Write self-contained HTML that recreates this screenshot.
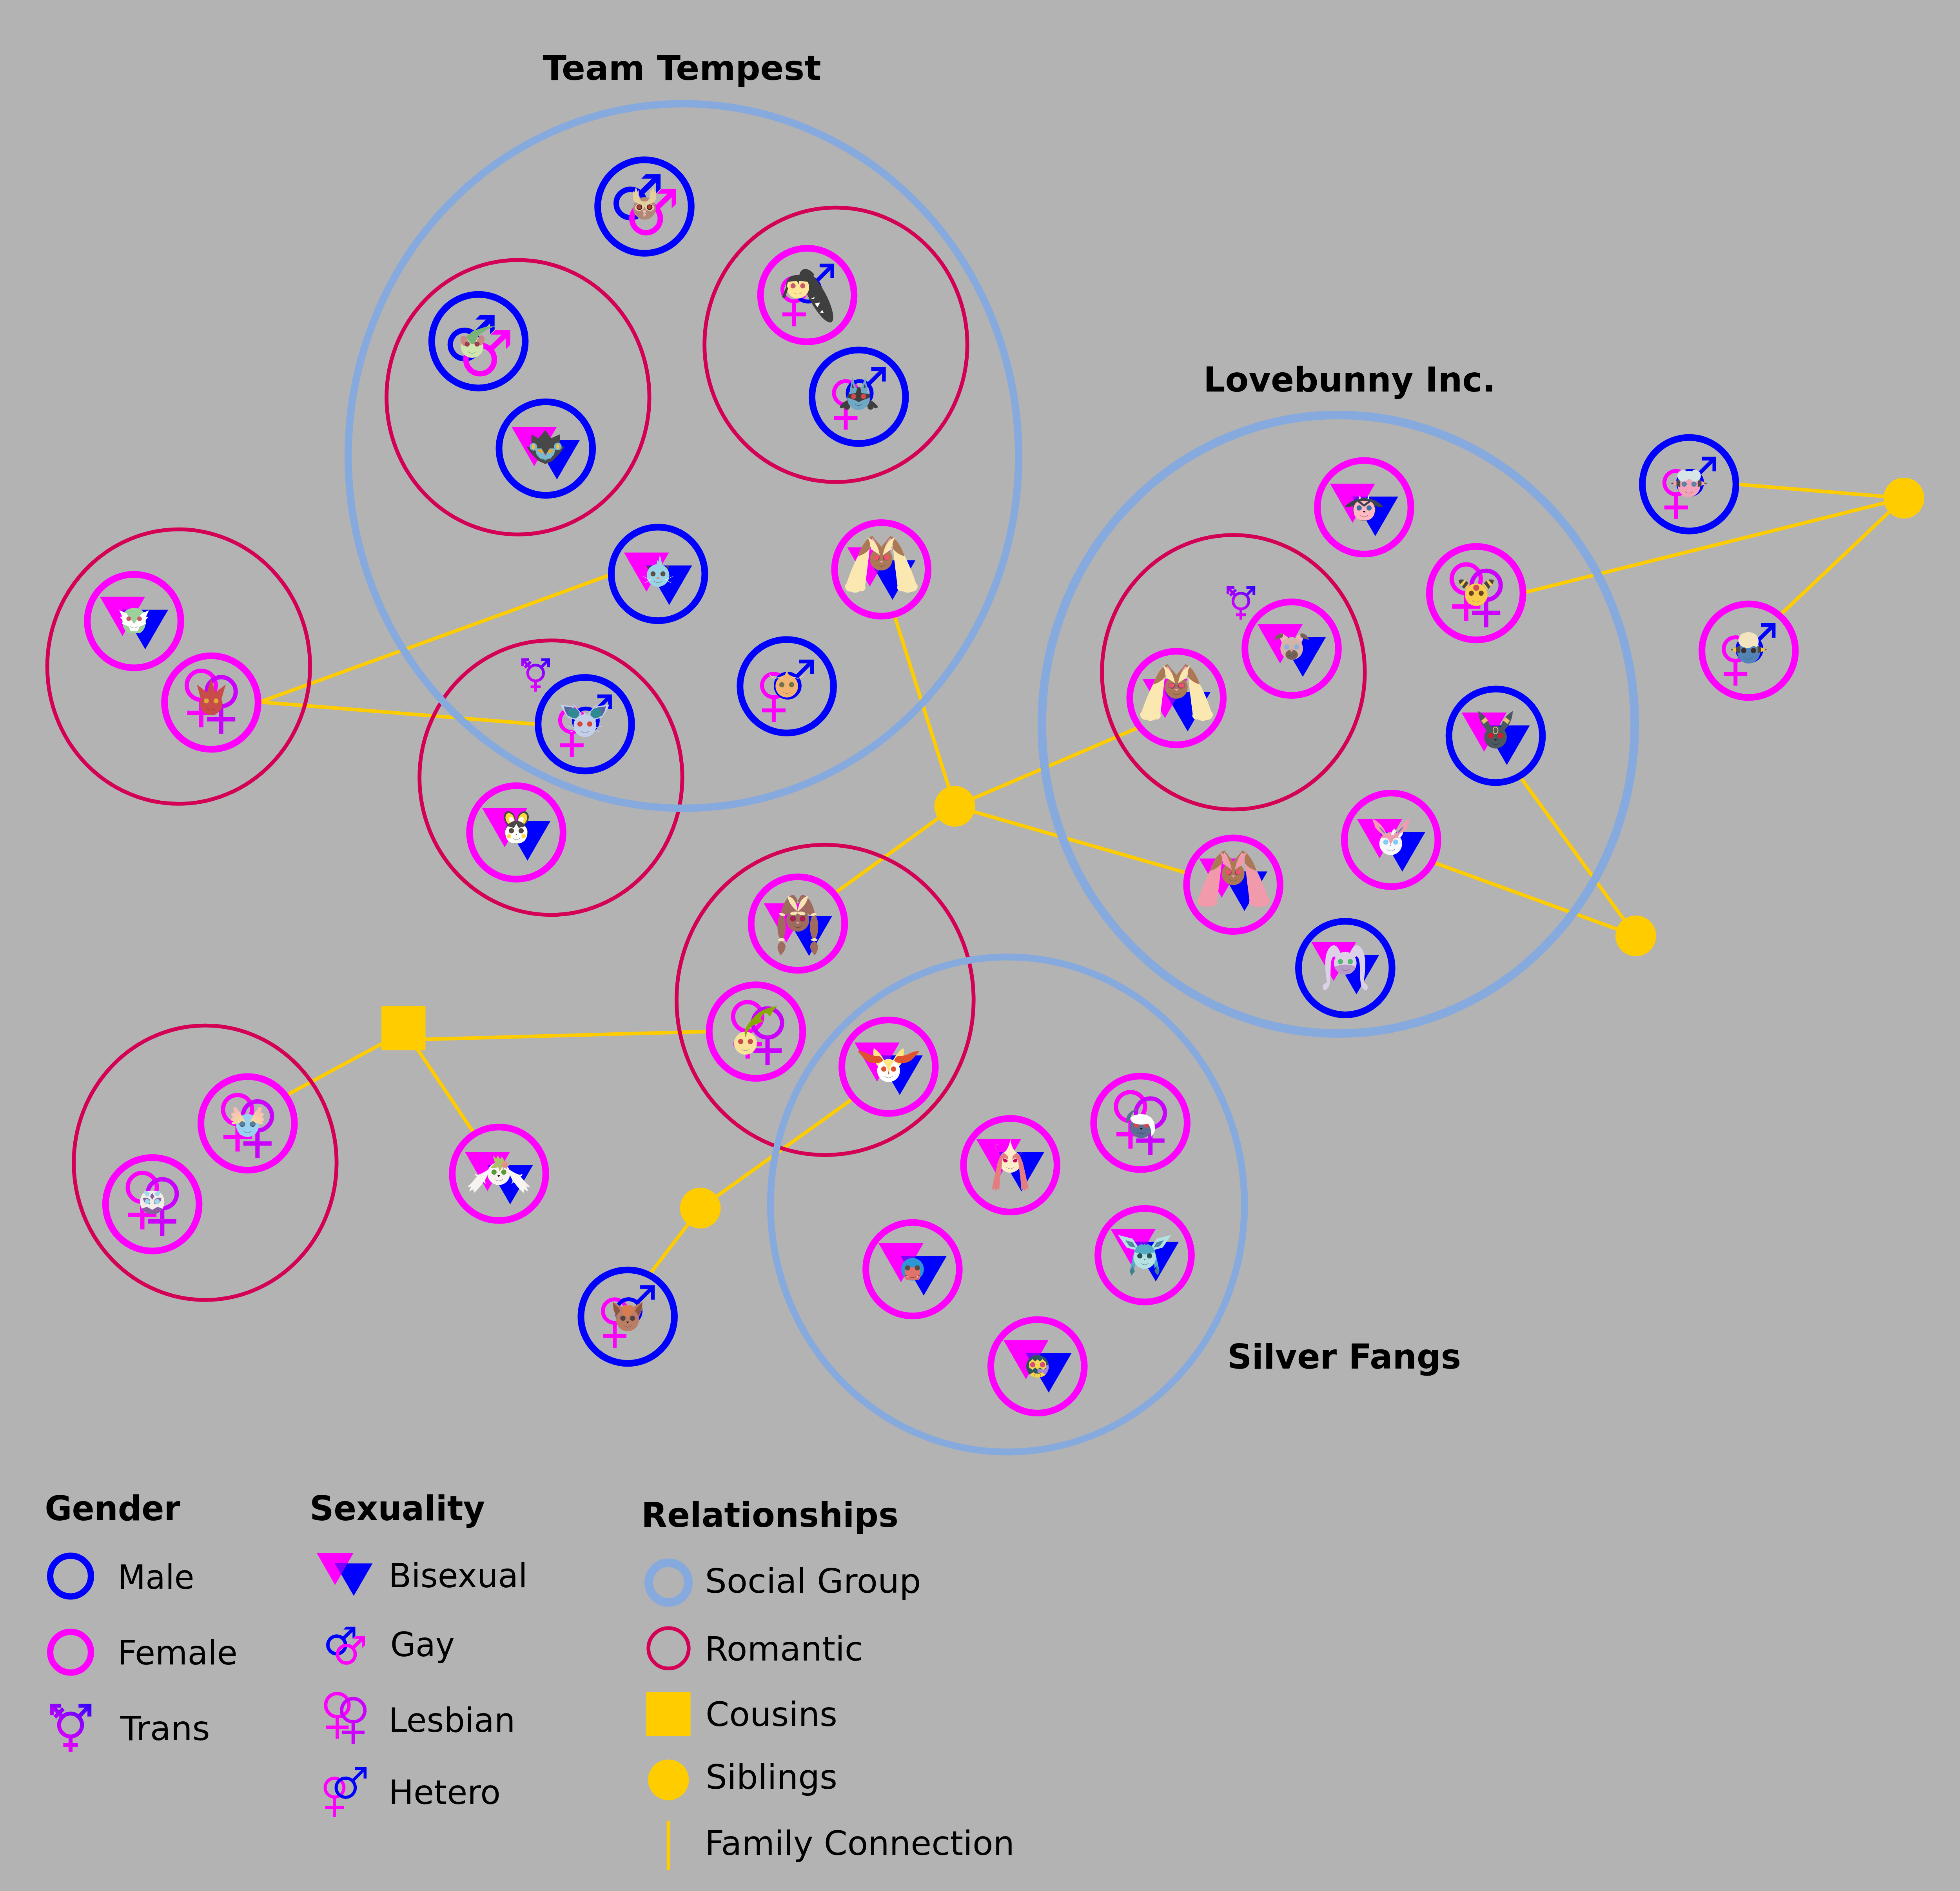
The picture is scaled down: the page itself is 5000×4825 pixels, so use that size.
<!DOCTYPE html>
<html lang="en"><head><meta charset="utf-8"><title>Relationship chart</title>
<style>html,body{margin:0;padding:0;background:#b3b3b3}svg{display:block}text{font-family:"DejaVu Sans","Liberation Sans",sans-serif;fill:#000}.b{font-weight:bold}</style></head><body>
<svg xmlns="http://www.w3.org/2000/svg" width="5000" height="4825" viewBox="0 0 5000 4825">
<defs><linearGradient id="tg" gradientUnits="userSpaceOnUse" x1="36" y1="-37" x2="-22" y2="45"><stop offset="0" stop-color="#2a00ff"/><stop offset="0.45" stop-color="#a000ff"/><stop offset="1" stop-color="#ff00ff"/></linearGradient><linearGradient id="fin" x1="0.2" y1="0" x2="0.9" y2="1"><stop offset="0" stop-color="#f9b4b8"/><stop offset="1" stop-color="#f5e49a"/></linearGradient></defs>
<rect width="5000" height="4825" fill="#b3b3b3"/>
<g stroke="#ffcc00" stroke-width="9" fill="none">
<line x1="2281.3" y1="1569.2" x2="2435.7" y2="2057.2"/>
<line x1="2906.1" y1="1855.7" x2="2435.7" y2="2057.2"/>
<line x1="3028.8" y1="2227.8" x2="2435.7" y2="2057.2"/>
<line x1="2128.9" y1="2279.6" x2="2435.7" y2="2057.2"/>
<line x1="3877.3" y1="1981.4" x2="4173.0" y2="2388.0"/>
<line x1="3655.5" y1="2200.0" x2="4173.0" y2="2388.0"/>
<line x1="3886.8" y1="1512.3" x2="4856.9" y2="1270.9"/>
<line x1="4430.0" y1="1235.6" x2="4856.9" y2="1270.9"/>
<line x1="4540.9" y1="1569.5" x2="4856.9" y2="1270.9"/>
<line x1="1000.0" y1="2649.1" x2="729.6" y2="2795.1"/>
<line x1="1050.0" y1="2652.8" x2="1807.5" y2="2632.1"/>
<line x1="1053.4" y1="2660.0" x2="1209.7" y2="2891.9"/>
<line x1="2176.6" y1="2802.3" x2="1786.5" y2="3082.6"/>
<line x1="1656.7" y1="3252.0" x2="1786.5" y2="3082.6"/>
<line x1="662.8" y1="1791.2" x2="1555.9" y2="1467.0"/><line x1="662.8" y1="1791.2" x2="1369.2" y2="1847.7"/>
</g>
<g fill="#ffcc00">
<circle cx="2435.7" cy="2057.2" r="52"/>
<circle cx="4856.9" cy="1270.9" r="52"/>
<circle cx="1786.5" cy="3082.6" r="52"/>
<circle cx="4173" cy="2388" r="52"/>
<rect x="972.9" y="2566.9" width="112.6" height="113.1" rx="2"/>
</g>
<g fill="none" stroke="#d40055" stroke-width="9.8">
<ellipse cx="1321.3" cy="1013.6" rx="335.25" ry="350.1"/>
<ellipse cx="2132.4" cy="879.7" rx="335.25" ry="350.1"/>
<ellipse cx="455.8" cy="1700.8" rx="335.25" ry="350.1"/>
<ellipse cx="1405.4" cy="1984.2" rx="335.25" ry="350.1"/>
<ellipse cx="523.4" cy="2966.8" rx="335.25" ry="350.1"/>
<ellipse cx="2104.8" cy="2551.4" rx="378.9" ry="395.7"/>
<ellipse cx="3146.4" cy="1715.2" rx="335.25" ry="350.1"/>
</g>
<g fill="none" stroke="#87aade">
<ellipse cx="1743.4" cy="1163.4" rx="855.2" ry="898.8" stroke-width="18.8"/>
<ellipse cx="3414" cy="1848" rx="756.2" ry="789.1" stroke-width="21.8"/>
<ellipse cx="2570.1" cy="3073.3" rx="604.6" ry="631.5" stroke-width="17.5"/>
</g>
<g transform="translate(1644,527)"><circle r="119.3" fill="none" stroke="#0000ff" stroke-width="17"/><g transform="translate(0,0)"><circle cx="-35.7" cy="-7.8" r="36.3" fill="none" stroke="#0000ff" stroke-width="14.0"/><line x1="-9.7" y1="-33.2" x2="33.7" y2="-75.6" stroke="#0000ff" stroke-width="14.0"/><polygon points="41.1,-82.8 41.1,-45.3 29.6,-33.8 29.6,-71.3 -7.9,-71.3 3.6,-82.8" fill="#0000ff"/><circle cx="4.2" cy="30.5" r="36.3" fill="none" stroke="#ff00ff" stroke-width="14.0"/><line x1="30.2" y1="5.1" x2="73.6" y2="-37.3" stroke="#ff00ff" stroke-width="14.0"/><polygon points="81.0,-44.5 81.0,-7.0 69.5,4.5 69.5,-33.0 32.0,-33.0 43.5,-44.5" fill="#ff00ff"/></g><circle cx="0.1" cy="4.7" r="28.8" fill="#b08878"/><ellipse cx="-12.5" cy="1.7" rx="12.2" ry="9.1" fill="#e6cf9e" transform="rotate(-15 -12.5 1.7)"/><polygon points="0.1,-12.7 0.1,1.2 -10.4,-4.9 -24.3,-11.0 -28.7,-17.1 -28.7,-39.8 -25.7,-36.6 -21.7,-50.6 -18.1,-37.7 -15.3,-42.4 -13.9,-22.3 -6.9,-14.0" fill="#e6cf9e"/><circle cx="-13.0" cy="1.7" r="7.3" fill="#222"/><circle cx="-13.0" cy="1.7" r="5.4" fill="#b83838"/><g transform="translate(0.2 0) scale(-1 1)"><ellipse cx="-12.5" cy="1.7" rx="12.2" ry="9.1" fill="#e6cf9e" transform="rotate(-15 -12.5 1.7)"/><polygon points="0.1,-12.7 0.1,1.2 -10.4,-4.9 -24.3,-11.0 -28.7,-17.1 -28.7,-39.8 -25.7,-36.6 -21.7,-50.6 -18.1,-37.7 -15.3,-42.4 -13.9,-22.3 -6.9,-14.0" fill="#e6cf9e"/><circle cx="-13.0" cy="1.7" r="7.3" fill="#222"/><circle cx="-13.0" cy="1.7" r="5.4" fill="#b83838"/></g><polygon points="-4.3,9.1 4.5,9.1 3.6,21.3 0.1,26.5 -3.4,21.3" fill="#e8b8a8"/><path d="M-4.8 15.7 L-2.0 18.2 L0.1 15.7 L2.2 18.2 L5.0 15.7" fill="none" stroke="#333" stroke-width="0.5"/></g>
<g transform="translate(2059.5,752.8)"><circle r="119.3" fill="none" stroke="#ff00ff" stroke-width="17"/><g transform="translate(-0.5,-4.3)"><circle cx="-33.2" cy="-9.7" r="30.0" fill="none" stroke="#ff00ff" stroke-width="10.0"/><path d="M-33.2 20.3V83.9M-63.2 53.7H-3.2" stroke="#ff00ff" stroke-width="10.0" fill="none"/><circle cx="2.3" cy="-9.4" r="30.5" fill="none" stroke="#0000ff" stroke-width="10.0"/><line x1="23.9" y1="-30.9" x2="62.8" y2="-69.7" stroke="#0000ff" stroke-width="10.0"/><polygon points="68.9,-75.7 68.9,-38.7 59.4,-38.7 59.4,-66.2 31.9,-66.2 31.9,-75.7" fill="#0000ff"/></g><ellipse cx="26.2" cy="4.0" rx="74.0" ry="21.3" fill="#3f3f3f" transform="rotate(61.6 26.2 4.0)"/><path d="M-20.6 -28.6 Q-25.0 -64.1 -5.8 -66.5 Q6.1 -67.1 17.9 -52.2 L0.1 -28.6 Z" fill="#3f3f3f"/><circle cx="-24.1" cy="-19.7" r="28.7" fill="#ffe699"/><path d="M-53.7 -16.7 Q-57.6 -50.8 -24.1 -51.4 Q7.5 -50.8 6.1 -16.7 L2.5 -33.9 L-20.6 -35.7 L-22.9 -27.1 L-25.9 -35.7 L-49.6 -33.9 Z" fill="#3f3f3f"/><polygon points="-53.1,-22.6 -64.4,5.5 -57.6,8.4 -49.0,-16.7" fill="#3f3f3f"/><polygon points="9.6,9.3 18.5,4.6 17.3,10.5" fill="#fff"/><polygon points="19.1,21.8 32.7,18.8 26.2,31.2" fill="#fff"/><polygon points="32.1,44.8 38.0,38.0 41.6,45.4" fill="#fff"/><circle cx="-36.3" cy="-23.5" r="6.5" fill="#c85a6a"/><circle cx="-11.7" cy="-23.5" r="6.5" fill="#c85a6a"/><path d="M-34.4 -6.4Q-24.1 2.2 -13.8 -6.4" fill="none" stroke="#554" stroke-width="0.6"/></g>
<g transform="translate(1220.6,870.6)"><circle r="119.3" fill="none" stroke="#0000ff" stroke-width="17"/><g transform="translate(0,16.2)"><circle cx="-35.7" cy="-7.8" r="36.3" fill="none" stroke="#0000ff" stroke-width="14.0"/><line x1="-9.7" y1="-33.2" x2="33.7" y2="-75.6" stroke="#0000ff" stroke-width="14.0"/><polygon points="41.1,-82.8 41.1,-45.3 29.6,-33.8 29.6,-71.3 -7.9,-71.3 3.6,-82.8" fill="#0000ff"/><circle cx="4.2" cy="30.5" r="36.3" fill="none" stroke="#ff00ff" stroke-width="14.0"/><line x1="30.2" y1="5.1" x2="73.6" y2="-37.3" stroke="#ff00ff" stroke-width="14.0"/><polygon points="81.0,-44.5 81.0,-7.0 69.5,4.5 69.5,-33.0 32.0,-33.0 43.5,-44.5" fill="#ff00ff"/></g><circle cx="-16.3" cy="13.3" r="29.0" fill="#d0e6b0"/><polygon points="-32.6,-10.4 -13.3,-26.7 19.3,-37.0 44.4,-38.5 25.2,-31.7 1.5,-16.3 -10.4,7.4 -17.8,7.4" fill="#7ab37a"/><ellipse cx="-36.4" cy="-0.9" rx="8.9" ry="13.3" fill="#c98080" transform="rotate(-15 -36.4 -0.9)" opacity="0.9"/><ellipse cx="5.9" cy="-2.1" rx="8.9" ry="13.3" fill="#c98080" transform="rotate(15 5.9 -2.1)" opacity="0.9"/><circle cx="-28.7" cy="7.4" r="6.5" fill="#994050"/><circle cx="-3.6" cy="7.4" r="6.5" fill="#994050"/><path d="M-26.6 26.7Q-16.3 35.3 -6.0 26.7" fill="none" stroke="#443" stroke-width="0.6"/></g>
<g transform="translate(2190.7,1012.3)"><circle r="119.3" fill="none" stroke="#0000ff" stroke-width="17"/><g transform="translate(0,0)"><circle cx="-33.2" cy="-9.7" r="30.0" fill="none" stroke="#ff00ff" stroke-width="10.0"/><path d="M-33.2 20.3V83.9M-63.2 53.7H-3.2" stroke="#ff00ff" stroke-width="10.0" fill="none"/><circle cx="2.3" cy="-9.4" r="30.5" fill="none" stroke="#0000ff" stroke-width="10.0"/><line x1="23.9" y1="-30.9" x2="62.8" y2="-69.7" stroke="#0000ff" stroke-width="10.0"/><polygon points="68.9,-75.7 68.9,-38.7 59.4,-38.7 59.4,-66.2 31.9,-66.2 31.9,-75.7" fill="#0000ff"/></g><path d="M-27.1 8.0 Q-41.9 13.9 -49.3 26.3 Q-44.8 31.7 -37.4 27.2 Q-35.4 35.2 -25.6 32.3 Q-19.7 25.8 -22.6 13.9 Z" fill="#3f3f3f"/><polygon points="-23.2,-14.2 -16.7,-49.7 -4.6,-17.2" fill="#6fa8c4"/><polygon points="-17.6,-23.1 -15.8,-34.9 -12.3,-22.2" fill="#3f3f3f"/><g transform="translate(0.0 0) scale(-1 1)"><path d="M-27.1 8.0 Q-41.9 13.9 -49.3 26.3 Q-44.8 31.7 -37.4 27.2 Q-35.4 35.2 -25.6 32.3 Q-19.7 25.8 -22.6 13.9 Z" fill="#3f3f3f"/><polygon points="-23.2,-14.2 -16.7,-49.7 -4.6,-17.2" fill="#6fa8c4"/><polygon points="-17.6,-23.1 -15.8,-34.9 -12.3,-22.2" fill="#3f3f3f"/></g><circle cx="-0.4" cy="5.0" r="28.7" fill="#6fa8c4"/><polygon points="-28.3,-6.2 -7.0,-9.2 -4.0,-24.0 4.0,-24.0 6.7,-9.2 28.6,-6.2 28.0,2.1 8.4,9.5 0.1,13.9 -7.8,9.5 -27.7,2.1" fill="#3f3f3f"/><circle cx="-12.9" cy="-0.9" r="6.5" fill="#d94848"/><circle cx="12.0" cy="-0.9" r="6.5" fill="#d94848"/><path d="M-10.7 18.4Q-0.4 27.0 9.9 18.4" fill="none" stroke="#234" stroke-width="0.6"/></g>
<g transform="translate(1392.3,1144.6)"><circle r="119.3" fill="none" stroke="#0000ff" stroke-width="17"/><g transform="translate(0,6.9)"><polygon points="-87,-62 28,-62 -29.5,38" fill="#ff00ff"/><polygon points="-30,-29 87,-29 28.5,72" fill="#0000ff"/><polygon points="-30,-29 9,-29 -10.4,4.8" fill="#8000ff"/></g><polygon points="-1.3,39.4 -20.6,30.5 -36.9,12.7 -48.7,-4.1 -36.9,-5.6 -36.3,-35.8 -19.1,-26.4 -0.7,-47.1 13.5,-26.4 36.6,-36.7 35.7,-5.6 48.4,-4.7 34.2,13.6 16.4,32.0" fill="#484848"/><circle cx="-31.5" cy="-4.7" r="9.8" fill="#7ab8d0"/><circle cx="30.7" cy="-5.6" r="9.8" fill="#7ab8d0"/><polygon points="-28.0,-0.3 25.3,-0.3 20.9,15.1 12.0,25.5 -1.3,30.5 -14.7,25.5 -23.5,15.1" fill="#7ab8d0"/><polygon points="-16.1,-9.2 15.0,-9.2 -0.7,16.6" fill="#484848"/><ellipse cx="-31.5" cy="-4.7" rx="3.9" ry="6.8" fill="#fbbf3a"/><ellipse cx="30.7" cy="-5.6" rx="3.9" ry="6.8" fill="#fbbf3a"/><ellipse cx="-13.2" cy="6.2" rx="7.4" ry="4.1" fill="#e0a830" transform="rotate(25 -13.2 6.2)"/><ellipse cx="12.0" cy="6.2" rx="7.4" ry="4.1" fill="#e0a830" transform="rotate(-25 12.0 6.2)"/><polygon points="-3.1,14.5 1.6,14.5 -0.7,18.1" fill="#e05050"/><path d="M-11.0 24.6Q-0.7 33.2 9.6 24.6" fill="none" stroke="#223" stroke-width="0.6"/></g>
<g transform="translate(1678.7,1464.4)"><circle r="119.3" fill="none" stroke="#0000ff" stroke-width="17"/><g transform="translate(0,7.3)"><polygon points="-87,-62 28,-62 -29.5,38" fill="#ff00ff"/><polygon points="-30,-29 87,-29 28.5,72" fill="#0000ff"/><polygon points="-30,-29 9,-29 -10.4,4.8" fill="#8000ff"/></g><polygon points="-28.7,-20.2 -19.8,-21.2 -25.0,-9.1" fill="#4a4444"/><polygon points="19.7,-21.0 28.3,-20.2 25.0,-9.1" fill="#4a4444"/><path d="M-3.6 -22.4 L-2.8 -30.6 L-0.6 -36.5 L1.3 -30.6 L4.3 -47.9 Q9.0 -35.8 10.2 -22.4 Z" fill="#9ad3e3"/><circle cx="-0.1" cy="3.9" r="28.9" fill="#9ad3e3"/><circle cx="-12.7" cy="-0.2" r="6.4" fill="#5e4e48"/><circle cx="12.4" cy="-0.2" r="6.4" fill="#5e4e48"/><ellipse cx="-0.1" cy="10.4" rx="4.0" ry="2.2" fill="#d98a84"/><path d="M-38.6 6.4 L-18.4 15.0 L-34.9 23.2" fill="none" stroke="#fff" stroke-width="1.0"/><path d="M38.6 6.4 L18.4 15.0 L34.6 23.2" fill="none" stroke="#fff" stroke-width="1.0"/><path d="M-10.4 18.3Q-0.1 26.9 10.2 18.3" fill="none" stroke="#345" stroke-width="0.6"/></g>
<g transform="translate(2248.3,1452.8)"><circle r="119.3" fill="none" stroke="#ff00ff" stroke-width="17"/><g transform="translate(0,5.6)"><polygon points="-87,-62 28,-62 -29.5,38" fill="#ff00ff"/><polygon points="-30,-29 87,-29 28.5,72" fill="#0000ff"/><polygon points="-30,-29 9,-29 -10.4,4.8" fill="#8000ff"/></g><path d="M-22.5 -85.7 C-38.1 -80.1 -51.4 -57.9 -58.5 -36.4 C-73.6 -7.6 -83.2 19.1 -88.4 35.4 Q-95.8 41.3 -90.6 50.2 Q-86.9 57.6 -76.5 56.9 Q-66.2 62.8 -54.3 55.4 Q-45.5 57.6 -41.3 50.2 Q-39.5 45.8 -41.3 42.0 Q-36.6 7.3 -29.9 -52.0 L-28.9 -60.9 L-17.3 -77.1 Z" fill="#fbe8b0"/><path d="M-22.5 -85.7 C-38.1 -80.1 -51.4 -57.9 -58.5 -36.4 L-59.1 -33.5 Q-41.0 -38.6 -29.9 -52.0 L-28.9 -60.9 L-17.3 -77.1 Z" fill="#ac7957"/><g transform="translate(0.0 0) scale(-1 1)"><path d="M-22.5 -85.7 C-38.1 -80.1 -51.4 -57.9 -58.5 -36.4 C-73.6 -7.6 -83.2 19.1 -88.4 35.4 Q-95.8 41.3 -90.6 50.2 Q-86.9 57.6 -76.5 56.9 Q-66.2 62.8 -54.3 55.4 Q-45.5 57.6 -41.3 50.2 Q-39.5 45.8 -41.3 42.0 Q-36.6 7.3 -29.9 -52.0 L-28.9 -60.9 L-17.3 -77.1 Z" fill="#fbe8b0"/><path d="M-22.5 -85.7 C-38.1 -80.1 -51.4 -57.9 -58.5 -36.4 L-59.1 -33.5 Q-41.0 -38.6 -29.9 -52.0 L-28.9 -60.9 L-17.3 -77.1 Z" fill="#ac7957"/></g><circle cx="-0.3" cy="-26.1" r="28.9" fill="#ac7957"/><polygon points="-21.8,-83.8 0.0,-57.9 21.8,-83.8 9.3,-46.0 0.0,-37.2 -9.3,-46.0" fill="#ac7957"/><path d="M-35.8 -81.9 Q-27.7 -71.2 -28.4 -57.9 L-25.5 -56.4 L-27.7 -52.0 Q-17.3 -46.0 -4.0 -36.4 Q-7.0 -57.9 -18.8 -71.2 Q-26.2 -78.6 -35.8 -81.9 Z" fill="#fbe8b0"/><path d="M-22.9 -80.8 Q-14.4 -71.2 -8.1 -54.2 Q-12.9 -66.8 -24.7 -75.7 Z" fill="#f0a0c8"/><g transform="translate(0.0 0) scale(-1 1)"><path d="M-35.8 -81.9 Q-27.7 -71.2 -28.4 -57.9 L-25.5 -56.4 L-27.7 -52.0 Q-17.3 -46.0 -4.0 -36.4 Q-7.0 -57.9 -18.8 -71.2 Q-26.2 -78.6 -35.8 -81.9 Z" fill="#fbe8b0"/><path d="M-22.9 -80.8 Q-14.4 -71.2 -8.1 -54.2 Q-12.9 -66.8 -24.7 -75.7 Z" fill="#f0a0c8"/></g><circle cx="-11.1" cy="-29.5" r="6.7" fill="#5a4a48"/><circle cx="11.1" cy="-29.5" r="6.7" fill="#5a4a48"/><circle cx="-12.6" cy="-30.5" r="6.7" fill="#f4506e"/><circle cx="12.6" cy="-30.5" r="6.7" fill="#f4506e"/><polygon points="-5.0,-21.9 5.0,-21.9 0.0,-16.7" fill="#f0a0c8"/><path d="M-10.3 -11.7Q0.0 -3.1 10.3 -11.7" fill="none" stroke="#4a3020" stroke-width="0.6"/></g>
<g transform="translate(2007.1,1751)"><circle r="119.3" fill="none" stroke="#0000ff" stroke-width="17"/><g transform="translate(0,7.8)"><circle cx="-33.2" cy="-9.7" r="30.0" fill="none" stroke="#ff00ff" stroke-width="10.0"/><path d="M-33.2 20.3V83.9M-63.2 53.7H-3.2" stroke="#ff00ff" stroke-width="10.0" fill="none"/><circle cx="2.3" cy="-9.4" r="30.5" fill="none" stroke="#0000ff" stroke-width="10.0"/><line x1="23.9" y1="-30.9" x2="62.8" y2="-69.7" stroke="#0000ff" stroke-width="10.0"/><polygon points="68.9,-75.7 68.9,-38.7 59.4,-38.7 59.4,-66.2 31.9,-66.2 31.9,-75.7" fill="#0000ff"/></g><polygon points="-7.0,-25.4 0.1,-39.5 7.1,-25.4" fill="#f2b36e"/><circle cx="0.0" cy="-0.2" r="28.9" fill="#f2b36e"/><path d="M-9.2 -17.0 Q-14.4 -26.1 -23.2 -21.7 Q-33.6 -17.2 -44.3 -29.8" fill="none" stroke="#e8d4b0" stroke-width="1.8"/><path d="M9.0 -17.0 Q14.5 -26.1 22.7 -21.7 Q33.8 -17.2 44.9 -29.8" fill="none" stroke="#e8d4b0" stroke-width="1.8"/><circle cx="-12.6" cy="-3.9" r="6.7" fill="#73714d"/><circle cx="12.3" cy="-3.9" r="6.7" fill="#73714d"/><path d="M-10.3 14.1Q0.0 22.7 10.3 14.1" fill="none" stroke="#543" stroke-width="0.6"/></g>
<g transform="translate(1492,1847.7)"><circle r="119.3" fill="none" stroke="#0000ff" stroke-width="17"/><g transform="translate(0,0)"><circle cx="-33.2" cy="-9.7" r="30.0" fill="none" stroke="#ff00ff" stroke-width="10.0"/><path d="M-33.2 20.3V83.9M-63.2 53.7H-3.2" stroke="#ff00ff" stroke-width="10.0" fill="none"/><circle cx="2.3" cy="-9.4" r="30.5" fill="none" stroke="#0000ff" stroke-width="10.0"/><line x1="23.9" y1="-30.9" x2="62.8" y2="-69.7" stroke="#0000ff" stroke-width="10.0"/><polygon points="68.9,-75.7 68.9,-38.7 59.4,-38.7 59.4,-66.2 31.9,-66.2 31.9,-75.7" fill="#0000ff"/></g><polygon points="-62.3,-50.2 -30.1,-45.4 -7.9,-22.7 -21.7,-10.0 -43.9,-17.5 -55.1,-34.0" fill="#c4d0ea"/><polygon points="-53.0,-45.4 -32.3,-42.8 -13.2,-23.4 -24.9,-14.3 -43.9,-21.7 -51.3,-35.4" fill="#5a62a0"/><ellipse cx="-28.5" cy="-28.0" rx="15.2" ry="12.3" fill="#308a94" transform="rotate(35 -28.5 -28.0)"/><path d="M-28.0 9.0 L-43.9 4.8 M-25.9 16.0 L-38.6 20.2" fill="none" stroke="#c4d0ea" stroke-width="1.5"/><path d="M-29.1 -50.2 L-9.0 -25.9" fill="none" stroke="#c4d0ea" stroke-width="2.5"/><g transform="translate(0.2 0) scale(-1 1)"><polygon points="-62.3,-50.2 -30.1,-45.4 -7.9,-22.7 -21.7,-10.0 -43.9,-17.5 -55.1,-34.0" fill="#c4d0ea"/><polygon points="-53.0,-45.4 -32.3,-42.8 -13.2,-23.4 -24.9,-14.3 -43.9,-21.7 -51.3,-35.4" fill="#5a62a0"/><ellipse cx="-28.5" cy="-28.0" rx="15.2" ry="12.3" fill="#308a94" transform="rotate(35 -28.5 -28.0)"/><path d="M-28.0 9.0 L-43.9 4.8 M-25.9 16.0 L-38.6 20.2" fill="none" stroke="#c4d0ea" stroke-width="1.5"/><path d="M-29.1 -50.2 L-9.0 -25.9" fill="none" stroke="#c4d0ea" stroke-width="2.5"/></g><polygon points="-3.7,-24.9 0.1,-30.6 3.9,-24.9" fill="#c4d0ea"/><circle cx="0.1" cy="3.7" r="29.0" fill="#c4d0ea"/><circle cx="-12.6" cy="-0.5" r="6.8" fill="#d84838"/><circle cx="12.2" cy="-0.5" r="6.8" fill="#d84838"/><path d="M-10.2 18.1Q0.1 26.7 10.4 18.1" fill="none" stroke="#445" stroke-width="0.6"/></g>
<g transform="translate(1317.1,2124)"><circle r="119.3" fill="none" stroke="#ff00ff" stroke-width="17"/><g transform="translate(0,0)"><polygon points="-87,-62 28,-62 -29.5,38" fill="#ff00ff"/><polygon points="-30,-29 87,-29 28.5,72" fill="#0000ff"/><polygon points="-30,-29 9,-29 -10.4,4.8" fill="#8000ff"/></g><ellipse cx="-17.0" cy="-35.8" rx="14.1" ry="19.0" fill="#4d4747" transform="rotate(-22 -17.0 -35.8)"/><ellipse cx="-16.1" cy="-34.3" rx="10.7" ry="15.5" fill="#ffdc3d" transform="rotate(-22 -16.1 -34.3)"/><ellipse cx="-11.7" cy="-29.8" rx="6.2" ry="10.7" fill="#fdfdfd" transform="rotate(-22 -11.7 -29.8)"/><circle cx="-18.8" cy="9.7" r="5.6" fill="#ffdc3d"/><g transform="translate(0.0 0) scale(-1 1)"><ellipse cx="-17.0" cy="-35.8" rx="14.1" ry="19.0" fill="#4d4747" transform="rotate(-22 -17.0 -35.8)"/><ellipse cx="-16.1" cy="-34.3" rx="10.7" ry="15.5" fill="#ffdc3d" transform="rotate(-22 -16.1 -34.3)"/><ellipse cx="-11.7" cy="-29.8" rx="6.2" ry="10.7" fill="#fdfdfd" transform="rotate(-22 -11.7 -29.8)"/><circle cx="-18.8" cy="9.7" r="5.6" fill="#ffdc3d"/></g><circle cx="0.0" cy="-0.2" r="29.2" fill="#4d4747"/><path d="M-28.3 -2.4 Q-27.7 -9.8 -21.8 -15.8 L-6.2 -11.6 L0.0 -21.7 L6.1 -11.6 L21.9 -15.8 Q27.8 -9.8 28.3 -2.4 Q28.6 28.6 0.0 28.6 Q-28.6 28.6 -28.3 -2.4 Z" fill="#fdfdfd"/><circle cx="-12.6" cy="-4.2" r="6.7" fill="#554844"/><circle cx="12.3" cy="-4.2" r="6.7" fill="#554844"/><circle cx="-18.8" cy="9.7" r="5.6" fill="#ffdc3d"/><g transform="translate(0.0 0) scale(-1 1)"><circle cx="-18.8" cy="9.7" r="5.6" fill="#ffdc3d"/></g><ellipse cx="0.0" cy="5.7" rx="1.5" ry="1.0" fill="#222"/><path d="M-10.3 14.1Q0.0 22.7 10.3 14.1" fill="none" stroke="#333" stroke-width="0.6"/></g>
<g transform="translate(342,1584.7)"><circle r="119.3" fill="none" stroke="#ff00ff" stroke-width="17"/><g transform="translate(0,0)"><polygon points="-87,-62 28,-62 -29.5,38" fill="#ff00ff"/><polygon points="-30,-29 87,-29 28.5,72" fill="#0000ff"/><polygon points="-30,-29 9,-29 -10.4,4.8" fill="#8000ff"/></g><path d="M-30.1 -2.3 Q-30.1 -32.6 0.1 -33.1 Q30.4 -32.6 30.4 -2.3 Q30.4 22.4 13.9 31.2 L-13.6 31.2 Q-30.1 22.4 -30.1 -2.3 Z" fill="#9ed09e"/><polygon points="-37.8,-27.6 -19.1,-19.4 0.1,7.3 19.4,-19.4 38.1,-27.6 30.4,-11.1 36.4,-10.6 27.6,0.4 30.9,6.5 14.4,14.2 8.9,25.7 -8.7,25.7 -13.1,14.2 -30.7,6.5 -27.4,0.4 -36.2,-10.6 -30.1,-11.1" fill="#fff"/><polygon points="-9.5,-27.1 9.8,-27.1 0.1,8.1" fill="#9ed09e"/><circle cx="-13.6" cy="-5.9" r="6.0" fill="#c85a64"/><circle cx="13.9" cy="-5.9" r="6.0" fill="#c85a64"/><path d="M-10.2 13.6Q0.1 22.2 10.4 13.6" fill="none" stroke="#333" stroke-width="0.6"/></g>
<g transform="translate(539,1792.6)"><circle r="119.3" fill="none" stroke="#ff00ff" stroke-width="17"/><g transform="translate(0,0)"><circle cx="-25.6" cy="-44.1" r="37.1" fill="none" stroke="#ff00ff" stroke-width="11.0"/><path d="M-25.6 -7.0V63.1M-61.6 26.3H10.4" stroke="#ff00ff" stroke-width="11.0" fill="none"/><circle cx="25.2" cy="-27.8" r="37.1" fill="none" stroke="#cc00ff" stroke-width="11.0"/><path d="M25.2 9.3V79.4M-10.8 42.6H61.2" stroke="#cc00ff" stroke-width="11.0" fill="none"/></g><polygon points="-12.1,-22.1 -0.3,-60.6 11.5,-22.1" fill="#c84c48"/><polygon points="-26.4,-8.4 -36.8,-46.1 -8.5,-24.1" fill="#c84c48"/><polygon points="8.0,-24.1 36.8,-46.1 25.8,-8.4" fill="#c84c48"/><circle cx="-0.3" cy="2.6" r="28.9" fill="#c84c48"/><circle cx="-12.6" cy="-4.3" r="6.3" fill="#e0a838"/><circle cx="12.1" cy="-4.3" r="6.3" fill="#e0a838"/><path d="M-10.6 15.0Q-0.3 23.6 10.0 15.0" fill="none" stroke="#422" stroke-width="0.6"/></g>
<g transform="translate(3479.9,1294.4)"><circle r="119.3" fill="none" stroke="#ff00ff" stroke-width="17"/><g transform="translate(0,1.5)"><polygon points="-87,-62 28,-62 -29.5,38" fill="#ff00ff"/><polygon points="-30,-29 87,-29 28.5,72" fill="#0000ff"/><polygon points="-30,-29 9,-29 -10.4,4.8" fill="#8000ff"/></g><path d="M-15.5 -22.1 Q-36.3 -16.1 -49.3 -0.6 Q-36.3 1.6 -21.5 -7.3 Z" fill="#3d434b"/><polygon points="-14.4,-18.5 -7.1,-18.5 -10.8,-31.2" fill="#f8f8f4"/><g transform="translate(0.0 0) scale(-1 1)"><path d="M-15.5 -22.1 Q-36.3 -16.1 -49.3 -0.6 Q-36.3 1.6 -21.5 -7.3 Z" fill="#3d434b"/><polygon points="-14.4,-18.5 -7.1,-18.5 -10.8,-31.2" fill="#f8f8f4"/></g><circle cx="0.0" cy="5.3" r="29.2" fill="#3d434b"/><path d="M-27.4 5.3 Q-27.4 -7.3 -17.0 -14.7 L-7.4 -15.4 L0.0 -3.6 L7.4 -15.4 L17.0 -14.7 Q27.4 -7.3 27.4 5.3 Q27.4 33.5 0.0 33.9 Q-27.4 33.5 -27.4 5.3 Z" fill="#fdb8c2"/><polygon points="-7.7,-15.8 7.7,-15.8 0.0,-4.3" fill="#fdb8c2"/><path d="M-17.0 -13.9 L0.0 -1.3 L17.0 -13.9 L12.6 -17.6 L0.0 -7.3 L-12.6 -17.6 Z" fill="#3d434b"/><circle cx="-12.6" cy="1.6" r="6.7" fill="#3b6ea5"/><circle cx="12.6" cy="1.6" r="6.7" fill="#3b6ea5"/><polygon points="-3.7,9.8 3.7,9.8 0.0,13.8" fill="#111"/><path d="M-10.3 20.1Q0.0 28.7 10.3 20.1" fill="none" stroke="#433" stroke-width="0.6"/></g>
<g transform="translate(3765.8,1513.5)"><circle r="119.3" fill="none" stroke="#ff00ff" stroke-width="17"/><g transform="translate(0.2,7.6)"><circle cx="-25.6" cy="-44.1" r="37.1" fill="none" stroke="#ff00ff" stroke-width="11.0"/><path d="M-25.6 -7.0V63.1M-61.6 26.3H10.4" stroke="#ff00ff" stroke-width="11.0" fill="none"/><circle cx="25.2" cy="-27.8" r="37.1" fill="none" stroke="#cc00ff" stroke-width="11.0"/><path d="M25.2 9.3V79.4M-10.8 42.6H61.2" stroke="#cc00ff" stroke-width="11.0" fill="none"/></g><path d="M-27.2 -10.3 Q-37.6 -16.5 -42.8 -25.4 Q-45.8 -31.3 -44.7 -34.0 Q-36.1 -35.8 -25.8 -31.6 Q-19.8 -26.9 -17.2 -22.4 Z" fill="#f9cc4e"/><path d="M-44.7 -34.0 Q-36.1 -35.8 -30.5 -34.0 L-40.9 -22.4 Q-45.0 -29.1 -44.7 -34.0 Z" fill="#4a4644"/><polygon points="-25.8,-31.6 -19.5,-25.4 -30.9,-10.9 -36.4,-16.2" fill="#4a4644"/><g transform="translate(0.2 0) scale(-1 1)"><path d="M-27.2 -10.3 Q-37.6 -16.5 -42.8 -25.4 Q-45.8 -31.3 -44.7 -34.0 Q-36.1 -35.8 -25.8 -31.6 Q-19.8 -26.9 -17.2 -22.4 Z" fill="#f9cc4e"/><path d="M-44.7 -34.0 Q-36.1 -35.8 -30.5 -34.0 L-40.9 -22.4 Q-45.0 -29.1 -44.7 -34.0 Z" fill="#4a4644"/><polygon points="-25.8,-31.6 -19.5,-25.4 -30.9,-10.9 -36.4,-16.2" fill="#4a4644"/></g><circle cx="0.1" cy="3.9" r="28.9" fill="#f9cc4e"/><circle cx="0.1" cy="-13.8" r="7.7" fill="#d24b5e"/><circle cx="-12.4" cy="0.1" r="6.5" fill="#6b4423"/><circle cx="12.7" cy="0.1" r="6.5" fill="#6b4423"/><path d="M-10.2 18.7Q0.1 27.3 10.4 18.7" fill="none" stroke="#653" stroke-width="0.6"/></g>
<g transform="translate(3295,1655.1)"><circle r="119.3" fill="none" stroke="#ff00ff" stroke-width="17"/><g transform="translate(0,0)"><polygon points="-87,-62 28,-62 -29.5,38" fill="#ff00ff"/><polygon points="-30,-29 87,-29 28.5,72" fill="#0000ff"/><polygon points="-30,-29 9,-29 -10.4,4.8" fill="#8000ff"/></g><polygon points="-29.8,-39.0 -22.2,-38.1 -6.6,-26.7 -24.7,-14.3 -29.0,-24.7" fill="#eab6b6"/><path d="M-21.8 -37.7 Q-29.4 -40.9 -37.0 -34.3 Q-42.7 -28.6 -44.3 -22.5 Q-33.2 -23.8 -22.7 -29.5 Z" fill="#76625a"/><g transform="translate(0.2 0) scale(-1 1)"><polygon points="-29.8,-39.0 -22.2,-38.1 -6.6,-26.7 -24.7,-14.3 -29.0,-24.7" fill="#eab6b6"/><path d="M-21.8 -37.7 Q-29.4 -40.9 -37.0 -34.3 Q-42.7 -28.6 -44.3 -22.5 Q-33.2 -23.8 -22.7 -29.5 Z" fill="#76625a"/></g><circle cx="0.1" cy="-0.4" r="28.9" fill="#d2b4a8"/><ellipse cx="0.1" cy="15.2" rx="15.8" ry="12.9" fill="#76625a"/><polygon points="-4.1,4.2 4.1,4.2 -0.1,8.4" fill="#f0b0b0"/><circle cx="-12.7" cy="-4.4" r="6.7" fill="#8eaee0"/><circle cx="12.5" cy="-4.4" r="6.7" fill="#8eaee0"/><path d="M-10.2 14.8Q0.1 23.4 10.4 14.8" fill="none" stroke="#221" stroke-width="0.6"/></g>
<g transform="translate(3001.3,1781.1)"><circle r="119.3" fill="none" stroke="#ff00ff" stroke-width="17"/><g transform="translate(0,13.1)"><polygon points="-87,-62 28,-62 -29.5,38" fill="#ff00ff"/><polygon points="-30,-29 87,-29 28.5,72" fill="#0000ff"/><polygon points="-30,-29 9,-29 -10.4,4.8" fill="#8000ff"/></g><path d="M-22.5 -86.9 C-38.1 -81.3 -51.4 -59.1 -58.5 -37.6 C-73.6 -8.8 -83.2 17.9 -88.4 34.2 Q-95.8 40.1 -90.6 49.0 Q-86.9 56.4 -76.5 55.7 Q-66.2 61.6 -54.3 54.2 Q-45.5 56.4 -41.3 49.0 Q-39.5 44.6 -41.3 40.8 Q-36.6 6.1 -29.9 -53.2 L-28.9 -62.1 L-17.3 -78.3 Z" fill="#fbe8b0"/><path d="M-22.5 -86.9 C-38.1 -81.3 -51.4 -59.1 -58.5 -37.6 L-59.1 -34.7 Q-41.0 -39.8 -29.9 -53.2 L-28.9 -62.1 L-17.3 -78.3 Z" fill="#ac7957"/><g transform="translate(0.0 0) scale(-1 1)"><path d="M-22.5 -86.9 C-38.1 -81.3 -51.4 -59.1 -58.5 -37.6 C-73.6 -8.8 -83.2 17.9 -88.4 34.2 Q-95.8 40.1 -90.6 49.0 Q-86.9 56.4 -76.5 55.7 Q-66.2 61.6 -54.3 54.2 Q-45.5 56.4 -41.3 49.0 Q-39.5 44.6 -41.3 40.8 Q-36.6 6.1 -29.9 -53.2 L-28.9 -62.1 L-17.3 -78.3 Z" fill="#fbe8b0"/><path d="M-22.5 -86.9 C-38.1 -81.3 -51.4 -59.1 -58.5 -37.6 L-59.1 -34.7 Q-41.0 -39.8 -29.9 -53.2 L-28.9 -62.1 L-17.3 -78.3 Z" fill="#ac7957"/></g><circle cx="-0.3" cy="-27.3" r="28.9" fill="#ac7957"/><polygon points="-21.8,-85.0 0.0,-59.1 21.8,-85.0 9.3,-47.2 0.0,-38.4 -9.3,-47.2" fill="#ac7957"/><path d="M-35.8 -83.1 Q-27.7 -72.4 -28.4 -59.1 L-25.5 -57.6 L-27.7 -53.2 Q-17.3 -47.2 -4.0 -37.6 Q-7.0 -59.1 -18.8 -72.4 Q-26.2 -79.8 -35.8 -83.1 Z" fill="#fbe8b0"/><path d="M-22.9 -82.0 Q-14.4 -72.4 -8.1 -55.4 Q-12.9 -68.0 -24.7 -76.9 Z" fill="#f0a0c8"/><g transform="translate(0.0 0) scale(-1 1)"><path d="M-35.8 -83.1 Q-27.7 -72.4 -28.4 -59.1 L-25.5 -57.6 L-27.7 -53.2 Q-17.3 -47.2 -4.0 -37.6 Q-7.0 -59.1 -18.8 -72.4 Q-26.2 -79.8 -35.8 -83.1 Z" fill="#fbe8b0"/><path d="M-22.9 -82.0 Q-14.4 -72.4 -8.1 -55.4 Q-12.9 -68.0 -24.7 -76.9 Z" fill="#f0a0c8"/></g><circle cx="-11.1" cy="-30.7" r="6.7" fill="#5a4a48"/><circle cx="11.1" cy="-30.7" r="6.7" fill="#5a4a48"/><circle cx="-12.6" cy="-31.7" r="6.7" fill="#f4506e"/><circle cx="12.6" cy="-31.7" r="6.7" fill="#f4506e"/><path d="M-20.0 -36.9 L-3.3 -36.9 L-3.3 -26.8 L-20.0 -26.8 Z M3.1 -36.9 L20.0 -36.9 L20.0 -26.8 L3.1 -26.8 Z M-3.3 -31.7 L3.1 -31.7" fill="none" stroke="#7a3d9a" stroke-width="0.7"/><polygon points="-5.0,-23.1 5.0,-23.1 0.0,-17.9" fill="#f0a0c8"/><path d="M-10.3 -12.9Q0.0 -4.3 10.3 -12.9" fill="none" stroke="#4a3020" stroke-width="0.6"/></g>
<g transform="translate(3815.5,1877.4)"><circle r="119.3" fill="none" stroke="#0000ff" stroke-width="17"/><g transform="translate(0,2.6)"><polygon points="-87,-62 28,-62 -29.5,38" fill="#ff00ff"/><polygon points="-30,-29 87,-29 28.5,72" fill="#0000ff"/><polygon points="-30,-29 9,-29 -10.4,4.8" fill="#8000ff"/></g><path d="M-44.1 -63.5 Q-44.4 -45.8 -34.1 -28.0 Q-26.7 -17.6 -22.2 -13.9 L-12.6 -22.1 Q-17.8 -38.3 -28.1 -50.2 Q-37.0 -59.1 -44.1 -63.5 Z" fill="#4b585e"/><polygon points="-37.0,-38.1 -26.4,-47.5 -19.5,-39.5 -30.4,-30.2" fill="#e8bf73"/><g transform="translate(-0.6 0) scale(-1 1)"><path d="M-44.1 -63.5 Q-44.4 -45.8 -34.1 -28.0 Q-26.7 -17.6 -22.2 -13.9 L-12.6 -22.1 Q-17.8 -38.3 -28.1 -50.2 Q-37.0 -59.1 -44.1 -63.5 Z" fill="#4b585e"/><polygon points="-37.0,-38.1 -26.4,-47.5 -19.5,-39.5 -30.4,-30.2" fill="#e8bf73"/></g><circle cx="-0.3" cy="3.4" r="28.9" fill="#4b585e"/><ellipse cx="-0.3" cy="-13.5" rx="6.2" ry="8.6" fill="none" stroke="#e8bf73" stroke-width="2.1"/><circle cx="-12.6" cy="-0.1" r="6.7" fill="#d91a2a"/><circle cx="12.1" cy="-0.1" r="6.7" fill="#d91a2a"/><polygon points="-3.7,8.3 3.3,8.3 -0.3,12.3" fill="#111"/><path d="M-10.6 18.2Q-0.3 26.8 10.0 18.2" fill="none" stroke="#222" stroke-width="0.6"/></g>
<g transform="translate(3548.8,2142.9)"><circle r="119.3" fill="none" stroke="#ff00ff" stroke-width="17"/><g transform="translate(0,9.2)"><polygon points="-87,-62 28,-62 -29.5,38" fill="#ff00ff"/><polygon points="-30,-29 87,-29 28.5,72" fill="#0000ff"/><polygon points="-30,-29 9,-29 -10.4,4.8" fill="#8000ff"/></g><path d="M-47.8 -53.5 Q-36.3 -49.8 -24.4 -36.5 Q-15.5 -24.7 -12.3 -15.0 L-21.5 -12.1 Q-33.3 -21.7 -41.0 -32.1 L-42.9 -36.5 L-41.0 -36.5 Q-46.6 -45.4 -47.8 -53.5 Z" fill="#f09cb0"/><path d="M-31.1 -34.3 Q-21.5 -27.6 -13.8 -13.5 Q-24.4 -21.7 -31.1 -34.3 Z" fill="#5e78b4"/><path d="M48.1 -54.0 Q34.8 -49.8 24.4 -36.5 Q17.0 -26.1 13.3 -16.5 L22.2 -11.3 Q34.8 -21.7 41.9 -32.1 L42.9 -36.5 L41.0 -36.5 Q46.9 -45.4 48.1 -54.0 Z" fill="#f09cb0"/><path d="M31.4 -34.3 Q21.5 -27.6 14.8 -15.0 Q25.9 -21.7 31.4 -34.3 Z" fill="#5e78b4"/><circle cx="-1.0" cy="9.7" r="29.2" fill="#f6f7fa"/><path d="M-27.4 -3.2 Q-21.5 -17.2 -1.0 -19.5 Q19.2 -17.2 25.2 -3.2 Q12.6 -7.6 5.9 -1.7 L-1.0 12.7 L-7.4 -1.7 Q-14.1 -7.6 -27.4 -3.2 Z" fill="#f09cb0"/><path d="M0.7 -11.3 Q-0.7 -23.2 8.9 -28.4 Q14.1 -23.2 11.1 -14.3 Z" fill="#f6f7fa"/><path d="M17.0 -6.9 Q21.5 -18.7 30.4 -19.5 Q30.4 -11.3 22.2 -5.4 Z" fill="#f6f7fa"/><ellipse cx="13.3" cy="-14.3" rx="5.6" ry="4.1" fill="#f09cb0" transform="rotate(30 13.3 -14.3)"/><circle cx="-13.6" cy="5.7" r="6.7" fill="#82cdf4"/><circle cx="11.4" cy="5.7" r="6.7" fill="#82cdf4"/><ellipse cx="-1.0" cy="13.8" rx="1.3" ry="0.9" fill="#222"/><path d="M-11.3 24.2Q-1.0 32.8 9.3 24.2" fill="none" stroke="#333" stroke-width="0.6"/></g>
<g transform="translate(3146.2,2257.2)"><circle r="119.3" fill="none" stroke="#ff00ff" stroke-width="17"/><g transform="translate(0,-4.8)"><polygon points="-87,-62 28,-62 -29.5,38" fill="#ff00ff"/><polygon points="-30,-29 87,-29 28.5,72" fill="#0000ff"/><polygon points="-30,-29 9,-29 -10.4,4.8" fill="#8000ff"/></g><path d="M-22.5 -87.3 C-38.1 -81.7 -51.4 -59.5 -58.5 -38.0 C-73.6 -9.2 -83.2 17.5 -88.4 33.8 Q-95.8 39.7 -90.6 48.6 Q-86.9 56.0 -76.5 55.3 Q-66.2 61.2 -54.3 53.8 Q-45.5 56.0 -41.3 48.6 Q-39.5 44.2 -41.3 40.4 Q-36.6 5.7 -29.9 -53.6 L-28.9 -62.5 L-17.3 -78.7 Z" fill="#f19aab"/><path d="M-22.5 -87.3 C-38.1 -81.7 -51.4 -59.5 -58.5 -38.0 L-59.1 -35.1 Q-41.0 -40.2 -29.9 -53.6 L-28.9 -62.5 L-17.3 -78.7 Z" fill="#ac7957"/><g transform="translate(0.0 0) scale(-1 1)"><path d="M-22.5 -87.3 C-38.1 -81.7 -51.4 -59.5 -58.5 -38.0 C-73.6 -9.2 -83.2 17.5 -88.4 33.8 Q-95.8 39.7 -90.6 48.6 Q-86.9 56.0 -76.5 55.3 Q-66.2 61.2 -54.3 53.8 Q-45.5 56.0 -41.3 48.6 Q-39.5 44.2 -41.3 40.4 Q-36.6 5.7 -29.9 -53.6 L-28.9 -62.5 L-17.3 -78.7 Z" fill="#f19aab"/><path d="M-22.5 -87.3 C-38.1 -81.7 -51.4 -59.5 -58.5 -38.0 L-59.1 -35.1 Q-41.0 -40.2 -29.9 -53.6 L-28.9 -62.5 L-17.3 -78.7 Z" fill="#ac7957"/></g><circle cx="-0.3" cy="-27.7" r="28.9" fill="#ac7957"/><polygon points="-21.8,-85.4 0.0,-59.5 21.8,-85.4 9.3,-47.6 0.0,-38.8 -9.3,-47.6" fill="#ac7957"/><path d="M-35.8 -83.5 Q-27.7 -72.8 -28.4 -59.5 L-25.5 -58.0 L-27.7 -53.6 Q-17.3 -47.6 -4.0 -38.0 Q-7.0 -59.5 -18.8 -72.8 Q-26.2 -80.2 -35.8 -83.5 Z" fill="#f19aab"/><path d="M-22.9 -82.4 Q-14.4 -72.8 -8.1 -55.8 Q-12.9 -68.4 -24.7 -77.3 Z" fill="#f0a0c8"/><g transform="translate(0.0 0) scale(-1 1)"><path d="M-35.8 -83.5 Q-27.7 -72.8 -28.4 -59.5 L-25.5 -58.0 L-27.7 -53.6 Q-17.3 -47.6 -4.0 -38.0 Q-7.0 -59.5 -18.8 -72.8 Q-26.2 -80.2 -35.8 -83.5 Z" fill="#f19aab"/><path d="M-22.9 -82.4 Q-14.4 -72.8 -8.1 -55.8 Q-12.9 -68.4 -24.7 -77.3 Z" fill="#f0a0c8"/></g><circle cx="-11.1" cy="-31.1" r="6.7" fill="#5a4a48"/><circle cx="11.1" cy="-31.1" r="6.7" fill="#5a4a48"/><circle cx="-12.6" cy="-32.1" r="6.7" fill="#f4506e"/><circle cx="12.6" cy="-32.1" r="6.7" fill="#f4506e"/><polygon points="-5.0,-23.5 5.0,-23.5 0.0,-18.3" fill="#f0a0c8"/><path d="M-10.3 -13.3Q0.0 -4.7 10.3 -13.3" fill="none" stroke="#4a3020" stroke-width="0.6"/></g>
<g transform="translate(3431.8,2470.1)"><circle r="119.3" fill="none" stroke="#0000ff" stroke-width="17"/><g transform="translate(0,-5)"><polygon points="-87,-62 28,-62 -29.5,38" fill="#ff00ff"/><polygon points="-30,-29 87,-29 28.5,72" fill="#0000ff"/><polygon points="-30,-29 9,-29 -10.4,4.8" fill="#8000ff"/></g><path d="M-11.8 -38.0 C-17.0 -51.3 -22.9 -58.0 -29.6 -58.0 C-39.2 -57.2 -47.4 -45.4 -50.3 -24.7 C-52.6 -6.9 -49.6 15.3 -47.4 34.6 C-47.4 38.3 -51.1 39.3 -53.3 39.8 C-57.7 42.7 -58.5 50.9 -54.8 56.0 C-51.1 59.0 -43.7 52.3 -40.7 44.9 C-37.0 30.1 -37.8 7.9 -37.0 -6.9 C-36.3 -18.7 -34.1 -27.6 -28.9 -29.8 C-26.7 -29.8 -25.2 -27.6 -24.4 -24.7 L-9.6 -33.5 Z" fill="#dcd0e6"/><g transform="translate(0.0 0) scale(-1 1)"><path d="M-11.8 -38.0 C-17.0 -51.3 -22.9 -58.0 -29.6 -58.0 C-39.2 -57.2 -47.4 -45.4 -50.3 -24.7 C-52.6 -6.9 -49.6 15.3 -47.4 34.6 C-47.4 38.3 -51.1 39.3 -53.3 39.8 C-57.7 42.7 -58.5 50.9 -54.8 56.0 C-51.1 59.0 -43.7 52.3 -40.7 44.9 C-37.0 30.1 -37.8 7.9 -37.0 -6.9 C-36.3 -18.7 -34.1 -27.6 -28.9 -29.8 C-26.7 -29.8 -25.2 -27.6 -24.4 -24.7 L-9.6 -33.5 Z" fill="#dcd0e6"/></g><circle cx="0.0" cy="-12.5" r="28.9" fill="#dcd0e6"/><path d="M-26.5 -4.2 Q0.0 -12.8 26.7 -4.2 Q21.5 16.1 0.0 16.5 Q-21.5 16.1 -26.5 -4.2 Z" fill="#b89ac6"/><circle cx="-12.3" cy="-16.5" r="6.7" fill="#52b76f"/><circle cx="12.6" cy="-16.5" r="6.7" fill="#52b76f"/><path d="M-10.3 2.0Q0.0 10.6 10.3 2.0" fill="none" stroke="#433" stroke-width="0.6"/></g>
<g transform="translate(4309,1235.6)"><circle r="119.3" fill="none" stroke="#0000ff" stroke-width="17"/><g transform="translate(0.1,5.5)"><circle cx="-33.2" cy="-9.7" r="30.0" fill="none" stroke="#ff00ff" stroke-width="10.0"/><path d="M-33.2 20.3V83.9M-63.2 53.7H-3.2" stroke="#ff00ff" stroke-width="10.0" fill="none"/><circle cx="2.3" cy="-9.4" r="30.5" fill="none" stroke="#0000ff" stroke-width="10.0"/><line x1="23.9" y1="-30.9" x2="62.8" y2="-69.7" stroke="#0000ff" stroke-width="10.0"/><polygon points="68.9,-75.7 68.9,-38.7 59.4,-38.7 59.4,-66.2 31.9,-66.2 31.9,-75.7" fill="#0000ff"/></g><circle cx="-0.4" cy="3.7" r="28.9" fill="#f4a4b8"/><polygon points="-46.3,-2.2 -24.1,-11.8 -24.1,7.4" fill="#f4a4b8"/><polygon points="-46.3,-2.2 -40.1,-4.9 -40.1,0.4" fill="#4d4845"/><path d="M-32.3 -8.4 L-22.7 -11.8 L-22.7 7.4 L-32.3 4.0 Z" fill="#4d4845"/><g transform="translate(-0.8 0) scale(-1 1)"><polygon points="-46.3,-2.2 -24.1,-11.8 -24.1,7.4" fill="#f4a4b8"/><polygon points="-46.3,-2.2 -40.1,-4.9 -40.1,0.4" fill="#4d4845"/><path d="M-32.3 -8.4 L-22.7 -11.8 L-22.7 7.4 L-32.3 4.0 Z" fill="#4d4845"/></g><circle cx="-15.3" cy="-21.5" r="14.8" fill="#d6e5e8"/><circle cx="15.1" cy="-21.5" r="14.8" fill="#d6e5e8"/><circle cx="-0.1" cy="-23.7" r="10.7" fill="#d6e5e8"/><circle cx="-12.6" cy="-0.3" r="6.7" fill="#5b85a0"/><circle cx="12.4" cy="-0.3" r="6.7" fill="#5b85a0"/><path d="M-10.4 18.5Q-0.1 27.1 10.2 18.5" fill="none" stroke="#633" stroke-width="0.6"/></g>
<g transform="translate(4460.9,1660.3)"><circle r="119.3" fill="none" stroke="#ff00ff" stroke-width="17"/><g transform="translate(-0.4,5.4)"><circle cx="-33.2" cy="-9.7" r="30.0" fill="none" stroke="#ff00ff" stroke-width="10.0"/><path d="M-33.2 20.3V83.9M-63.2 53.7H-3.2" stroke="#ff00ff" stroke-width="10.0" fill="none"/><circle cx="2.3" cy="-9.4" r="30.5" fill="none" stroke="#0000ff" stroke-width="10.0"/><line x1="23.9" y1="-30.9" x2="62.8" y2="-69.7" stroke="#0000ff" stroke-width="10.0"/><polygon points="68.9,-75.7 68.9,-38.7 59.4,-38.7 59.4,-66.2 31.9,-66.2 31.9,-75.7" fill="#0000ff"/></g><circle cx="0.0" cy="3.8" r="28.9" fill="#5383b5"/><polygon points="-46.3,-2.5 -22.7,-12.0 -22.7,7.3" fill="#f8c644"/><polygon points="-46.3,-2.5 -41.0,-4.7 -41.0,-0.3" fill="#4d4845"/><path d="M-31.8 -8.3 L-22.7 -12.0 L-22.7 7.3 L-31.8 3.4 Z" fill="#4d4845"/><g transform="translate(0.0 0) scale(-1 1)"><polygon points="-46.3,-2.5 -22.7,-12.0 -22.7,7.3" fill="#f8c644"/><polygon points="-46.3,-2.5 -41.0,-4.7 -41.0,-0.3" fill="#4d4845"/><path d="M-31.8 -8.3 L-22.7 -12.0 L-22.7 7.3 L-31.8 3.4 Z" fill="#4d4845"/></g><path d="M-26.7 -25.0 Q-25.9 -45.8 -0.7 -47.5 Q24.4 -45.8 25.6 -23.5 Q24.4 -10.2 19.2 -9.5 Q14.1 -13.2 8.1 -10.2 Q-0.7 -2.8 -11.1 -8.7 Q-24.4 -11.7 -26.7 -25.0 Z" fill="#f3e4bf"/><circle cx="-12.6" cy="-0.6" r="6.7" fill="#3e2b2b"/><circle cx="12.1" cy="-0.6" r="6.7" fill="#3e2b2b"/><path d="M-10.6 17.6Q-0.3 26.2 10.0 17.6" fill="none" stroke="#234" stroke-width="0.6"/></g>
<g transform="translate(2035.5,2356.5)"><circle r="119.3" fill="none" stroke="#ff00ff" stroke-width="17"/><g transform="translate(0,10.4)"><polygon points="-87,-62 28,-62 -29.5,38" fill="#ff00ff"/><polygon points="-30,-29 87,-29 28.5,72" fill="#0000ff"/><polygon points="-30,-29 9,-29 -10.4,4.8" fill="#8000ff"/></g><path d="M-0.7 -57.6 Q-7.4 -75.4 -14.8 -73.1 Q-31.1 -66.5 -40.0 -39.8 Q-44.4 -28.0 -42.9 -22.1 L-31.1 -22.1 Q-22.2 -28.0 -13.3 -30.9 Z" fill="#9f6b5f"/><ellipse cx="-41.8" cy="8.3" rx="10.4" ry="31.8" fill="#9f6b5f"/><path d="M-42.2 44.6 Q-51.8 50.5 -52.1 60.9 Q-50.3 72.7 -44.1 80.8 Q-34.1 72.7 -31.4 59.4 Q-31.8 50.5 -42.2 44.6 Z" fill="#9f6b5f"/><ellipse cx="-40.3" cy="-23.2" rx="8.1" ry="3.6" fill="#f7e4b4" transform="rotate(20 -40.3 -23.2)"/><ellipse cx="-42.2" cy="41.2" rx="8.4" ry="3.6" fill="#f7e4b4"/><path d="M-25.9 -69.4 Q-25.2 -51.7 -0.7 -30.2 Q-1.5 -51.7 -13.3 -63.5 Q-20.7 -69.4 -25.9 -69.4 Z" fill="#f7e4b4"/><ellipse cx="-10.1" cy="-26.2" rx="9.8" ry="4.4" fill="#f7e4b4" transform="rotate(-8 -10.1 -26.2)"/><g transform="translate(-0.6 0) scale(-1 1)"><path d="M-0.7 -57.6 Q-7.4 -75.4 -14.8 -73.1 Q-31.1 -66.5 -40.0 -39.8 Q-44.4 -28.0 -42.9 -22.1 L-31.1 -22.1 Q-22.2 -28.0 -13.3 -30.9 Z" fill="#9f6b5f"/><ellipse cx="-41.8" cy="8.3" rx="10.4" ry="31.8" fill="#9f6b5f"/><path d="M-42.2 44.6 Q-51.8 50.5 -52.1 60.9 Q-50.3 72.7 -44.1 80.8 Q-34.1 72.7 -31.4 59.4 Q-31.8 50.5 -42.2 44.6 Z" fill="#9f6b5f"/><ellipse cx="-40.3" cy="-23.2" rx="8.1" ry="3.6" fill="#f7e4b4" transform="rotate(20 -40.3 -23.2)"/><ellipse cx="-42.2" cy="41.2" rx="8.4" ry="3.6" fill="#f7e4b4"/><path d="M-25.9 -69.4 Q-25.2 -51.7 -0.7 -30.2 Q-1.5 -51.7 -13.3 -63.5 Q-20.7 -69.4 -25.9 -69.4 Z" fill="#f7e4b4"/><ellipse cx="-10.1" cy="-26.2" rx="9.8" ry="4.4" fill="#f7e4b4" transform="rotate(-8 -10.1 -26.2)"/></g><circle cx="-0.3" cy="-8.7" r="29.2" fill="#9f6b5f"/><path d="M-25.9 -69.4 Q-25.2 -51.7 -0.7 -30.2 Q-1.5 -51.7 -13.3 -63.5 Q-20.7 -69.4 -25.9 -69.4 Z" fill="#f7e4b4"/><ellipse cx="-10.1" cy="-26.2" rx="9.8" ry="4.4" fill="#f7e4b4" transform="rotate(-8 -10.1 -26.2)"/><g transform="translate(-0.6 0) scale(-1 1)"><path d="M-25.9 -69.4 Q-25.2 -51.7 -0.7 -30.2 Q-1.5 -51.7 -13.3 -63.5 Q-20.7 -69.4 -25.9 -69.4 Z" fill="#f7e4b4"/><ellipse cx="-10.1" cy="-26.2" rx="9.8" ry="4.4" fill="#f7e4b4" transform="rotate(-8 -10.1 -26.2)"/></g><circle cx="-12.6" cy="-12.4" r="7.4" fill="#5a4a48"/><circle cx="11.8" cy="-12.4" r="7.4" fill="#5a4a48"/><circle cx="-12.6" cy="-12.4" r="6.4" fill="#b8185a"/><circle cx="11.8" cy="-12.4" r="6.4" fill="#b8185a"/><polygon points="-4.7,-4.3 4.4,-4.3 -0.3,1.3" fill="#f0a0c8"/><path d="M-10.6 6.1Q-0.3 14.7 10.0 6.1" fill="none" stroke="#321" stroke-width="0.6"/></g>
<g transform="translate(1928.5,2632.1)"><circle r="119.3" fill="none" stroke="#ff00ff" stroke-width="17"/><g transform="translate(4.3,5.8)"><circle cx="-25.6" cy="-44.1" r="37.1" fill="none" stroke="#ff00ff" stroke-width="11.0"/><path d="M-25.6 -7.0V63.1M-61.6 26.3H10.4" stroke="#ff00ff" stroke-width="11.0" fill="none"/><circle cx="25.2" cy="-27.8" r="37.1" fill="none" stroke="#cc00ff" stroke-width="11.0"/><path d="M25.2 9.3V79.4M-10.8 42.6H61.2" stroke="#cc00ff" stroke-width="11.0" fill="none"/></g><circle cx="-26.7" cy="29.7" r="29.2" fill="#f8e29c"/><path d="M-26.9 14.1 Q-30.4 6.4 -27.4 -6.9 Q-14.8 -30.6 8.9 -49.8 Q31.1 -63.1 55.1 -64.9 Q44.4 -57.2 36.3 -39.2 L33.3 -38.6 Q32.3 -45.4 25.2 -47.6 Q16.3 -43.9 11.8 -34.3 Q14.1 -27.6 20.1 -26.9 Q5.9 -20.2 -7.4 -15.8 Q-20.7 -6.9 -24.0 5.7 Q-24.4 10.9 -26.9 14.1 Z" fill="#88a800"/><circle cx="-38.9" cy="25.4" r="6.7" fill="#c4504a"/><circle cx="-14.4" cy="25.4" r="6.7" fill="#c4504a"/><path d="M-37.0 44.6Q-26.7 53.2 -16.4 44.6" fill="none" stroke="#664" stroke-width="0.6"/></g>
<g transform="translate(2266.8,2721.7)"><circle r="119.3" fill="none" stroke="#ff00ff" stroke-width="17"/><g transform="translate(0,0.3)"><polygon points="-87,-62 28,-62 -29.5,38" fill="#ff00ff"/><polygon points="-30,-29 87,-29 28.5,72" fill="#0000ff"/><polygon points="-30,-29 9,-29 -10.4,4.8" fill="#8000ff"/></g><path d="M-37.8 -47.6 Q-40.7 -33.1 -36.3 -15.3 Q-31.8 -5.0 -26.7 -1.3 L-11.1 -16.1 Q-21.5 -36.1 -37.8 -47.6 Z" fill="#ffe680"/><path d="M-78.9 -39.3 Q-65.9 -41.2 -48.1 -30.9 Q-36.3 -26.4 -24.4 -27.2 Q-17.0 -24.9 -13.8 -13.8 Q-21.5 -9.4 -36.3 -9.1 Q-51.1 -9.4 -61.4 -19.8 Q-70.3 -30.1 -78.9 -39.3 Z" fill="#de5230"/><g transform="translate(0.0 0) scale(-1 1)"><path d="M-37.8 -47.6 Q-40.7 -33.1 -36.3 -15.3 Q-31.8 -5.0 -26.7 -1.3 L-11.1 -16.1 Q-21.5 -36.1 -37.8 -47.6 Z" fill="#ffe680"/><path d="M-78.9 -39.3 Q-65.9 -41.2 -48.1 -30.9 Q-36.3 -26.4 -24.4 -27.2 Q-17.0 -24.9 -13.8 -13.8 Q-21.5 -9.4 -36.3 -9.1 Q-51.1 -9.4 -61.4 -19.8 Q-70.3 -30.1 -78.9 -39.3 Z" fill="#de5230"/></g><circle cx="0.0" cy="10.1" r="29.2" fill="#fff"/><path d="M-14.4 -14.1 Q0.0 -23.5 14.4 -14.1 Q5.9 -5.0 2.5 8.4 L0.0 17.5 L-2.5 8.4 Q-5.9 -5.0 -14.4 -14.1 Z" fill="#ffe680"/><circle cx="-12.3" cy="6.1" r="6.7" fill="#de5230"/><circle cx="12.6" cy="6.1" r="6.7" fill="#de5230"/><ellipse cx="0.0" cy="16.1" rx="1.8" ry="3.7" fill="#de5230"/><path d="M-10.3 24.4Q0.0 33.0 10.3 24.4" fill="none" stroke="#333" stroke-width="0.6"/></g>
<g transform="translate(631.8,2866.4)"><circle r="119.3" fill="none" stroke="#ff00ff" stroke-width="17"/><g transform="translate(-0.2,8.8)"><circle cx="-25.6" cy="-44.1" r="37.1" fill="none" stroke="#ff00ff" stroke-width="11.0"/><path d="M-25.6 -7.0V63.1M-61.6 26.3H10.4" stroke="#ff00ff" stroke-width="11.0" fill="none"/><circle cx="25.2" cy="-27.8" r="37.1" fill="none" stroke="#cc00ff" stroke-width="11.0"/><path d="M25.2 9.3V79.4M-10.8 42.6H61.2" stroke="#cc00ff" stroke-width="11.0" fill="none"/></g><circle cx="-0.4" cy="5.3" r="29.2" fill="#99d1f0"/><path d="M-6.4 -2.5 Q-14.1 -22.1 -29.6 -41.0 Q-34.1 -44.3 -37.0 -38.3 Q-36.3 -32.4 -33.0 -27.7 Q-39.2 -29.2 -42.2 -23.2 Q-40.7 -18.4 -36.0 -15.8 Q-42.9 -13.9 -42.9 -8.4 Q-40.0 -5.0 -36.0 -5.5 Q-42.2 -1.3 -41.0 1.3 Q-36.3 3.8 -27.4 0.1 Q-15.5 -3.6 -6.4 -2.5 Z" fill="url(#fin)"/><g transform="translate(-0.8 0) scale(-1 1)"><path d="M-6.4 -2.5 Q-14.1 -22.1 -29.6 -41.0 Q-34.1 -44.3 -37.0 -38.3 Q-36.3 -32.4 -33.0 -27.7 Q-39.2 -29.2 -42.2 -23.2 Q-40.7 -18.4 -36.0 -15.8 Q-42.9 -13.9 -42.9 -8.4 Q-40.0 -5.0 -36.0 -5.5 Q-42.2 -1.3 -41.0 1.3 Q-36.3 3.8 -27.4 0.1 Q-15.5 -3.6 -6.4 -2.5 Z" fill="url(#fin)"/></g><circle cx="-13.8" cy="1.9" r="7.1" fill="#3a4a58"/><circle cx="12.9" cy="1.9" r="7.1" fill="#3a4a58"/><circle cx="-13.8" cy="1.3" r="6.2" fill="#5880a0"/><circle cx="12.9" cy="1.3" r="6.2" fill="#5880a0"/><path d="M-10.7 19.7Q-0.4 28.3 9.9 19.7" fill="none" stroke="#246" stroke-width="0.6"/></g>
<g transform="translate(388.6,3072.7)"><circle r="119.3" fill="none" stroke="#ff00ff" stroke-width="17"/><g transform="translate(0,1.1)"><circle cx="-25.6" cy="-44.1" r="37.1" fill="none" stroke="#ff00ff" stroke-width="11.0"/><path d="M-25.6 -7.0V63.1M-61.6 26.3H10.4" stroke="#ff00ff" stroke-width="11.0" fill="none"/><circle cx="25.2" cy="-27.8" r="37.1" fill="none" stroke="#cc00ff" stroke-width="11.0"/><path d="M25.2 9.3V79.4M-10.8 42.6H61.2" stroke="#cc00ff" stroke-width="11.0" fill="none"/></g><ellipse cx="-0.3" cy="-4.6" rx="31.1" ry="30.4" fill="#8860a0"/><path d="M-31.4 -4.6 Q-31.1 -34.9 -0.3 -34.9 Q30.5 -34.9 30.8 -4.6 Q30.4 4.3 26.4 11.4 L13.3 6.5 L-0.3 14.2 L-14.1 6.5 L-26.7 11.4 Q-31.1 4.3 -31.4 -4.6 Z" fill="#f0ece8"/><polygon points="-21.8,-33.9 -16.6,-34.8 -6.2,-28.3 -8.6,-22.4 -14.8,-19.8 -20.0,-26.5" fill="#a0d8e8"/><path d="M-23.7 -16.4 Q-13.3 -18.7 -6.2 -11.7 Q-5.2 -4.6 -6.2 -0.4 Q-14.8 -0.1 -20.0 -4.6 Q-23.7 -10.5 -23.7 -16.4 Z" fill="#8860a0"/><circle cx="-13.0" cy="-6.8" r="6.7" fill="#a0d8e8"/><g transform="translate(-0.6 0) scale(-1 1)"><polygon points="-21.8,-33.9 -16.6,-34.8 -6.2,-28.3 -8.6,-22.4 -14.8,-19.8 -20.0,-26.5" fill="#a0d8e8"/><path d="M-23.7 -16.4 Q-13.3 -18.7 -6.2 -11.7 Q-5.2 -4.6 -6.2 -0.4 Q-14.8 -0.1 -20.0 -4.6 Q-23.7 -10.5 -23.7 -16.4 Z" fill="#8860a0"/><circle cx="-13.0" cy="-6.8" r="6.7" fill="#a0d8e8"/></g><polygon points="-0.3,-29.0 5.2,-20.1 -0.3,-11.7 -5.8,-20.1" fill="#8860a0"/></g>
<g transform="translate(1273,2995)"><circle r="119.3" fill="none" stroke="#ff00ff" stroke-width="17"/><g transform="translate(0,6)"><polygon points="-87,-62 28,-62 -29.5,38" fill="#ff00ff"/><polygon points="-30,-29 87,-29 28.5,72" fill="#0000ff"/><polygon points="-30,-29 9,-29 -10.4,4.8" fill="#8000ff"/></g><path d="M-21.9 -15.0 Q-37.5 -3.2 -52.3 2.3 Q-58.2 2.7 -60.4 -0.2 Q-62.6 4.2 -56.4 6.4 Q-67.1 21.2 -81.1 33.4 L-71.2 32.4 L-76.3 44.9 L-65.3 39.8 L-64.1 48.9 Q-50.8 37.5 -38.9 20.5 Q-37.5 24.9 -32.7 24.9 Q-36.7 20.5 -35.7 16.5 L-27.8 0.5 Z" fill="#f6f3f1"/><g transform="translate(-1.4 0) scale(-1 1)"><path d="M-21.9 -15.0 Q-37.5 -3.2 -52.3 2.3 Q-58.2 2.7 -60.4 -0.2 Q-62.6 4.2 -56.4 6.4 Q-67.1 21.2 -81.1 33.4 L-71.2 32.4 L-76.3 44.9 L-65.3 39.8 L-64.1 48.9 Q-50.8 37.5 -38.9 20.5 Q-37.5 24.9 -32.7 24.9 Q-36.7 20.5 -35.7 16.5 L-27.8 0.5 Z" fill="#f6f3f1"/></g><circle cx="-0.7" cy="-0.2" r="28.9" fill="#f6f3f1"/><polygon points="-21.5,-15.5 -10.5,-27.6 -15.5,-45.7 -7.1,-39.2 -3.4,-46.9 3.3,-37.7 7.0,-43.9 14.7,-31.8 10.2,-18.4 1.0,-6.6 -1.9,-17.0 -12.3,-14.0" fill="#afc06a"/><path d="M15.4 -34.7 L18.1 -28.4 L24.7 -30.3 L21.5 -24.4 L26.9 -20.2 L20.3 -18.7 L20.3 -11.6 L15.4 -16.5 L10.7 -11.6 L10.7 -18.7 L4.0 -20.2 L9.5 -24.4 L6.2 -30.3 L12.9 -28.4 Z" fill="#e0908c"/><circle cx="-12.7" cy="-4.2" r="6.7" fill="#5a9a38"/><circle cx="12.1" cy="-4.2" r="6.7" fill="#5a9a38"/><polygon points="-4.1,3.5 2.8,3.5 -0.7,9.1" fill="#111"/><path d="M-11.0 14.1Q-0.7 22.7 9.6 14.1" fill="none" stroke="#333" stroke-width="0.6"/></g>
<g transform="translate(2577.2,2973.1)"><circle r="119.3" fill="none" stroke="#ff00ff" stroke-width="17"/><g transform="translate(0,-5)"><polygon points="-87,-62 28,-62 -29.5,38" fill="#ff00ff"/><polygon points="-30,-29 87,-29 28.5,72" fill="#0000ff"/><polygon points="-30,-29 9,-29 -10.4,4.8" fill="#8000ff"/></g><path d="M0.1 -66.8 Q-2.5 -43.9 -18.1 -29.1 L17.9 -29.1 Q2.7 -43.9 0.1 -66.8 Z" fill="#fdedc8"/><circle cx="-0.3" cy="-9.5" r="28.6" fill="#fdedc8"/><polygon points="-16.6,-32.1 -6.2,-23.2 -5.2,-14.0 -12.9,-18.4 -19.5,-17.0 -21.8,2.0 -25.5,30.1 -28.4,64.2 -32.9,59.0 -37.3,66.4 -41.0,58.3 -47.2,62.7 -39.5,25.7 -32.1,-6.9 -25.5,-23.2" fill="#e57d80"/><path d="M-23.2 -27.3 Q-42.5 -42.4 -38.1 -51.3 Q-35.1 -55.7 -27.4 -50.6" fill="none" stroke="#e8a0a0" stroke-width="0.6"/><path d="M-18.5 -17.2 Q-9.9 -17.2 -6.2 -11.0 Q-8.4 -6.1 -14.4 -7.2 Q-18.8 -9.8 -18.5 -17.2 Z" fill="#cc0066"/><g transform="translate(0.0 0) scale(-1 1)"><polygon points="-16.6,-32.1 -6.2,-23.2 -5.2,-14.0 -12.9,-18.4 -19.5,-17.0 -21.8,2.0 -25.5,30.1 -28.4,64.2 -32.9,59.0 -37.3,66.4 -41.0,58.3 -47.2,62.7 -39.5,25.7 -32.1,-6.9 -25.5,-23.2" fill="#e57d80"/><path d="M-23.2 -27.3 Q-42.5 -42.4 -38.1 -51.3 Q-35.1 -55.7 -27.4 -50.6" fill="none" stroke="#e8a0a0" stroke-width="0.6"/><path d="M-18.5 -17.2 Q-9.9 -17.2 -6.2 -11.0 Q-8.4 -6.1 -14.4 -7.2 Q-18.8 -9.8 -18.5 -17.2 Z" fill="#cc0066"/></g><path d="M-10.3 5.0Q0.0 13.6 10.3 5.0" fill="none" stroke="#764" stroke-width="0.6"/></g>
<g transform="translate(2909.2,2865)"><circle r="119.3" fill="none" stroke="#ff00ff" stroke-width="17"/><g transform="translate(0.3,2.6)"><circle cx="-25.6" cy="-44.1" r="37.1" fill="none" stroke="#ff00ff" stroke-width="11.0"/><path d="M-25.6 -7.0V63.1M-61.6 26.3H10.4" stroke="#ff00ff" stroke-width="11.0" fill="none"/><circle cx="25.2" cy="-27.8" r="37.1" fill="none" stroke="#cc00ff" stroke-width="11.0"/><path d="M25.2 9.3V79.4M-10.8 42.6H61.2" stroke="#cc00ff" stroke-width="11.0" fill="none"/></g><path d="M-36.6 0.2 Q-39.5 -30.6 1.9 -39.0 Q-23.2 -30.6 -27.4 -6.1 Z" fill="#5d6e94"/><circle cx="1.9" cy="10.1" r="28.9" fill="#5d6e94"/><circle cx="-10.2" cy="5.7" r="6.7" fill="#d9484e"/><circle cx="14.5" cy="5.7" r="6.7" fill="#d9484e"/><path d="M-25.5 -9.5 Q-23.2 -20.2 0.4 -22.4 Q25.6 -21.7 34.5 -2.4 Q39.7 15.3 34.8 25.7 L27.1 36.3 Q30.1 16.8 19.7 2.0 Q0.4 7.9 -17.3 0.5 Q-24.7 -3.9 -25.5 -9.5 Z" fill="#fff"/><polygon points="-1.3,13.8 5.8,13.8 2.2,17.4" fill="#111"/><path d="M-8.1 23.9Q2.2 32.5 12.5 23.9" fill="none" stroke="#223" stroke-width="0.6"/></g>
<g transform="translate(2327.9,3238.5)"><circle r="119.3" fill="none" stroke="#ff00ff" stroke-width="17"/><g transform="translate(0,-4.8)"><polygon points="-87,-62 28,-62 -29.5,38" fill="#ff00ff"/><polygon points="-30,-29 87,-29 28.5,72" fill="#0000ff"/><polygon points="-30,-29 9,-29 -10.4,4.8" fill="#8000ff"/></g><circle cx="0.0" cy="0.1" r="28.9" fill="#2e96d6"/><path d="M-13.3 -5.0 L13.3 -5.0 Q19.2 -5.0 19.2 0.9 L19.2 20.9 Q19.2 26.8 13.3 26.8 L-13.3 26.8 Q-19.2 26.8 -19.2 20.9 L-19.2 0.9 Q-19.2 -5.0 -13.3 -5.0 Z" fill="#e0726a"/><path d="M-19.2 15.7 Q-14.1 15.7 -9.6 18.7 Q0.0 23.8 9.6 18.7 Q14.1 15.7 19.2 15.7" fill="none" stroke="#5a2a2a" stroke-width="0.7"/><polygon points="-13.3,17.2 -10.2,17.6 -11.7,21.8" fill="#fff"/><polygon points="10.5,17.6 13.5,17.2 12.0,21.8" fill="#fff"/><circle cx="-12.6" cy="-3.6" r="6.7" fill="#584c49"/><circle cx="12.3" cy="-3.6" r="6.7" fill="#584c49"/></g>
<g transform="translate(2920,3202.7)"><circle r="119.3" fill="none" stroke="#ff00ff" stroke-width="17"/><g transform="translate(0,-4.9)"><polygon points="-87,-62 28,-62 -29.5,38" fill="#ff00ff"/><polygon points="-30,-29 87,-29 28.5,72" fill="#0000ff"/><polygon points="-30,-29 9,-29 -10.4,4.8" fill="#8000ff"/></g><polygon points="-67.8,-51.6 -30.8,-42.3 -16.4,-21.2 -24.9,-13.5 -46.3,-19.8" fill="#b4e2e2"/><polygon points="-48.9,-38.3 -30.8,-33.1 -22.7,-19.5 -38.9,-22.7" fill="#508c9e"/><polygon points="-25.3,-14.6 -21.9,-6.4 -23.8,21.7 -25.3,33.8 -30.8,28.4 -37.5,38.0 -31.5,11.3" fill="#52adc4"/><polygon points="-38.2,39.5 -30.8,28.4 -24.9,40.9 -33.8,52.3" fill="#3a848c"/><g transform="translate(0.0 0) scale(-1 1)"><polygon points="-67.8,-51.6 -30.8,-42.3 -16.4,-21.2 -24.9,-13.5 -46.3,-19.8" fill="#b4e2e2"/><polygon points="-48.9,-38.3 -30.8,-33.1 -22.7,-19.5 -38.9,-22.7" fill="#508c9e"/><polygon points="-25.3,-14.6 -21.9,-6.4 -23.8,21.7 -25.3,33.8 -30.8,28.4 -37.5,38.0 -31.5,11.3" fill="#52adc4"/><polygon points="-38.2,39.5 -30.8,28.4 -24.9,40.9 -33.8,52.3" fill="#3a848c"/></g><circle cx="0.0" cy="6.1" r="28.6" fill="#b4e2e2"/><path d="M-24.9 -9.4 Q-24.1 -22.7 -7.1 -28.4 L-3.4 -25.7 L0.0 -28.9 L3.3 -25.7 L7.0 -28.4 Q24.0 -22.7 25.0 -9.4 L22.5 -6.7 L0.0 -1.7 L-22.7 -6.7 Z" fill="#52adc4"/><circle cx="-12.3" cy="1.7" r="6.7" fill="#2a5254"/><circle cx="12.4" cy="1.7" r="6.7" fill="#2a5254"/><polygon points="-2.7,10.1 2.8,10.1 0.0,12.8" fill="#3a848c"/><path d="M-10.3 20.2Q0.0 28.8 10.3 20.2" fill="none" stroke="#354" stroke-width="0.6"/></g>
<g transform="translate(2646.8,3486.2)"><circle r="119.3" fill="none" stroke="#ff00ff" stroke-width="17"/><g transform="translate(0,-4.9)"><polygon points="-87,-62 28,-62 -29.5,38" fill="#ff00ff"/><polygon points="-30,-29 87,-29 28.5,72" fill="#0000ff"/><polygon points="-30,-29 9,-29 -10.4,4.8" fill="#8000ff"/></g><circle cx="0.0" cy="0.1" r="28.9" fill="#2d5560"/><path d="M8.6 -26.9 L20.7 -5.0 L28.1 -2.1 Q30.4 10.5 20.3 21.6 L9.6 15.3 L0.0 18.2 L0.0 7.3 L20.7 7.8 L21.5 -5.8 Z" fill="#a888d0"/><path d="M-20.3 21.6 L-11.1 15.0 L0.0 18.7 L11.1 15.0 L20.7 21.6 Q11.1 29.0 0.0 29.0 Q-11.1 29.0 -20.3 21.6 Z" fill="#f0d850"/><polygon points="-21.5,-10.2 -12.6,-18.4 -5.9,-12.4 0.0,-17.6 5.9,-12.4 12.6,-18.4 21.5,-10.2 21.5,3.1 14.8,9.0 5.9,3.1 0.0,8.3 -5.9,3.1 -12.6,9.0 -21.5,3.1" fill="#f0d850"/><path d="M-7.4 18.7 L-7.7 25.6 M7.4 18.7 L7.7 25.6" fill="none" stroke="#d04040" stroke-width="0.7"/><circle cx="-12.3" cy="-4.0" r="6.7" fill="#d84a78"/><circle cx="12.6" cy="-4.0" r="6.7" fill="#d84a78"/><path d="M-10.3 15.0Q0.0 23.6 10.3 15.0" fill="none" stroke="#222" stroke-width="0.6"/></g>
<g transform="translate(1601.2,3359.5)"><circle r="119.3" fill="none" stroke="#0000ff" stroke-width="17"/><g transform="translate(0,-4.5)"><circle cx="-33.2" cy="-9.7" r="30.0" fill="none" stroke="#ff00ff" stroke-width="10.0"/><path d="M-33.2 20.3V83.9M-63.2 53.7H-3.2" stroke="#ff00ff" stroke-width="10.0" fill="none"/><circle cx="2.3" cy="-9.4" r="30.5" fill="none" stroke="#0000ff" stroke-width="10.0"/><line x1="23.9" y1="-30.9" x2="62.8" y2="-69.7" stroke="#0000ff" stroke-width="10.0"/><polygon points="68.9,-75.7 68.9,-38.7 59.4,-38.7 59.4,-66.2 31.9,-66.2 31.9,-75.7" fill="#0000ff"/></g><polygon points="-38.1,-37.5 -27.4,-32.8 -14.1,-23.9 -9.3,-10.3 -22.9,3.0 -29.2,0.1 -36.6,-17.7" fill="#b97e66"/><polygon points="-37.3,-36.5 -21.8,-21.0 -16.1,-6.1 -26.2,1.6 -35.1,-16.2" fill="#8f5543"/><g transform="translate(0.0 0) scale(-1 1)"><polygon points="-38.1,-37.5 -27.4,-32.8 -14.1,-23.9 -9.3,-10.3 -22.9,3.0 -29.2,0.1 -36.6,-17.7" fill="#b97e66"/><polygon points="-37.3,-36.5 -21.8,-21.0 -16.1,-6.1 -26.2,1.6 -35.1,-16.2" fill="#8f5543"/></g><circle cx="-0.3" cy="7.9" r="29.2" fill="#b97e66"/><polygon points="-14.7,-21.0 -11.4,-27.6 -6.2,-29.8 -0.3,-28.4 6.4,-29.8 12.3,-27.6 15.5,-21.0 13.8,-10.6 7.8,-2.9 5.6,-6.1 1.9,5.3 -1.8,-1.0 -7.0,-2.9 -12.9,-10.6" fill="#d97c50"/><circle cx="-12.1" cy="3.9" r="6.7" fill="#574040"/><circle cx="12.3" cy="3.9" r="6.7" fill="#574040"/><polygon points="-3.7,12.8 3.7,12.8 0.0,17.0" fill="#111"/><path d="M-10.3 22.7Q0.0 31.3 10.3 22.7" fill="none" stroke="#422" stroke-width="0.6"/></g>
<g transform="translate(1366.3,1717.2) scale(1.0)" fill="none" stroke="url(#tg)" stroke-width="7"><circle r="20.2"/><path d="M0 20.5V47.6M-12.8 35.2H12.8"/><path d="M14.5 -14.5L33 -34M14 -34H33.2V-15"/><path d="M-14.5 -14.5L-33 -34M-16.5 -34H-33V-17.5"/><path d="M-27.6 -13.7L-12.6 -28.7"/></g>
<g transform="translate(3165.5,1533.6) scale(1.0)" fill="none" stroke="url(#tg)" stroke-width="7"><circle r="20.2"/><path d="M0 20.5V47.6M-12.8 35.2H12.8"/><path d="M14.5 -14.5L33 -34M14 -34H33.2V-15"/><path d="M-14.5 -14.5L-33 -34M-16.5 -34H-33V-17.5"/><path d="M-27.6 -13.7L-12.6 -28.7"/></g>
<text x="1384.5" y="203.5" font-size="87" textLength="710" lengthAdjust="spacingAndGlyphs" class="b">Team Tempest</text>
<text x="3070" y="998.7" font-size="87" textLength="745" lengthAdjust="spacingAndGlyphs" class="b">Lovebunny Inc.</text>
<text x="3131.2" y="3492.3" font-size="87" textLength="596" lengthAdjust="spacingAndGlyphs" class="b">Silver Fangs</text>
<text x="114.3" y="3878.6" font-size="88" textLength="345.7" lengthAdjust="spacingAndGlyphs" class="b">Gender</text>
<text x="790" y="3878.6" font-size="88" textLength="447" lengthAdjust="spacingAndGlyphs" class="b">Sexuality</text>
<text x="1636" y="3895.7" font-size="88" textLength="656" lengthAdjust="spacingAndGlyphs" class="b">Relationships</text>
<circle cx="180" cy="4021.4" r="52" fill="none" stroke="#0000ff" stroke-width="16"/>
<circle cx="180" cy="4215.7" r="52" fill="none" stroke="#ff00ff" stroke-width="16"/>
<g transform="translate(180.0,4401.5) scale(1.45)" fill="none" stroke="url(#tg)" stroke-width="7"><circle r="20.2"/><path d="M0 20.5V47.6M-12.8 35.2H12.8"/><path d="M14.5 -14.5L33 -34M14 -34H33.2V-15"/><path d="M-14.5 -14.5L-33 -34M-16.5 -34H-33V-17.5"/><path d="M-27.6 -13.7L-12.6 -28.7"/></g>
<text x="300" y="4054.3" font-size="85" textLength="195.7" lengthAdjust="spacingAndGlyphs">Male</text>
<text x="300" y="4247" font-size="85" textLength="305.7" lengthAdjust="spacingAndGlyphs">Female</text>
<text x="307" y="4440" font-size="85" textLength="228.7" lengthAdjust="spacingAndGlyphs">Trans</text>
<g transform="translate(879,4013) scale(0.82)"><polygon points="-87,-62 28,-62 -29.5,38" fill="#ff00ff"/><polygon points="-30,-29 87,-29 28.5,72" fill="#0000ff"/><polygon points="-30,-29 9,-29 -10.4,4.8" fill="#8000ff"/></g>
<g transform="translate(881,4202) scale(0.62)"><circle cx="-35.7" cy="-7.8" r="36.3" fill="none" stroke="#0000ff" stroke-width="14.0"/><line x1="-9.7" y1="-33.2" x2="33.7" y2="-75.6" stroke="#0000ff" stroke-width="14.0"/><polygon points="41.1,-82.8 41.1,-45.3 29.6,-33.8 29.6,-71.3 -7.9,-71.3 3.6,-82.8" fill="#0000ff"/><circle cx="4.2" cy="30.5" r="36.3" fill="none" stroke="#ff00ff" stroke-width="14.0"/><line x1="30.2" y1="5.1" x2="73.6" y2="-37.3" stroke="#ff00ff" stroke-width="14.0"/><polygon points="81.0,-44.5 81.0,-7.0 69.5,4.5 69.5,-33.0 32.0,-33.0 43.5,-44.5" fill="#ff00ff"/></g>
<g transform="translate(881,4386) scale(0.8)"><circle cx="-25.6" cy="-44.1" r="37.1" fill="none" stroke="#ff00ff" stroke-width="11.0"/><path d="M-25.6 -7.0V63.1M-61.6 26.3H10.4" stroke="#ff00ff" stroke-width="11.0" fill="none"/><circle cx="25.2" cy="-27.8" r="37.1" fill="none" stroke="#cc00ff" stroke-width="11.0"/><path d="M25.2 9.3V79.4M-10.8 42.6H61.2" stroke="#cc00ff" stroke-width="11.0" fill="none"/></g>
<g transform="translate(880,4569) scale(0.8)"><circle cx="-33.2" cy="-9.7" r="30.0" fill="none" stroke="#ff00ff" stroke-width="10.0"/><path d="M-33.2 20.3V83.9M-63.2 53.7H-3.2" stroke="#ff00ff" stroke-width="10.0" fill="none"/><circle cx="2.3" cy="-9.4" r="30.5" fill="none" stroke="#0000ff" stroke-width="10.0"/><line x1="23.9" y1="-30.9" x2="62.8" y2="-69.7" stroke="#0000ff" stroke-width="10.0"/><polygon points="68.9,-75.7 68.9,-38.7 59.4,-38.7 59.4,-66.2 31.9,-66.2 31.9,-75.7" fill="#0000ff"/></g>
<text x="991.4" y="4050" font-size="85" textLength="354.3" lengthAdjust="spacingAndGlyphs">Bisexual</text>
<text x="995.7" y="4225.7" font-size="85" textLength="164.3" lengthAdjust="spacingAndGlyphs">Gay</text>
<text x="991.4" y="4418.6" font-size="85" textLength="322.9" lengthAdjust="spacingAndGlyphs">Lesbian</text>
<text x="991.4" y="4602.9" font-size="85" textLength="285.6" lengthAdjust="spacingAndGlyphs">Hetero</text>
<circle cx="1705.5" cy="4038.1" r="50.6" fill="none" stroke="#87aade" stroke-width="22"/>
<circle cx="1705.5" cy="4205.7" r="51.4" fill="none" stroke="#d40055" stroke-width="9.5"/>
<rect x="1648.6" y="4317" width="113" height="113" fill="#ffcc00"/>
<circle cx="1705.3" cy="4541.4" r="52" fill="#ffcc00"/>
<line x1="1705.2" y1="4645.9" x2="1705.2" y2="4772" stroke="#ffcc00" stroke-width="9"/>
<text x="1798.5" y="4064.3" font-size="85" textLength="551" lengthAdjust="spacingAndGlyphs">Social Group</text>
<text x="1798" y="4237" font-size="85" textLength="404" lengthAdjust="spacingAndGlyphs">Romantic</text>
<text x="1800" y="4404.3" font-size="85" textLength="336" lengthAdjust="spacingAndGlyphs">Cousins</text>
<text x="1800" y="4564.3" font-size="85" textLength="336" lengthAdjust="spacingAndGlyphs">Siblings</text>
<text x="1798" y="4732.9" font-size="85" textLength="790" lengthAdjust="spacingAndGlyphs">Family Connection</text>
</svg></body></html>
